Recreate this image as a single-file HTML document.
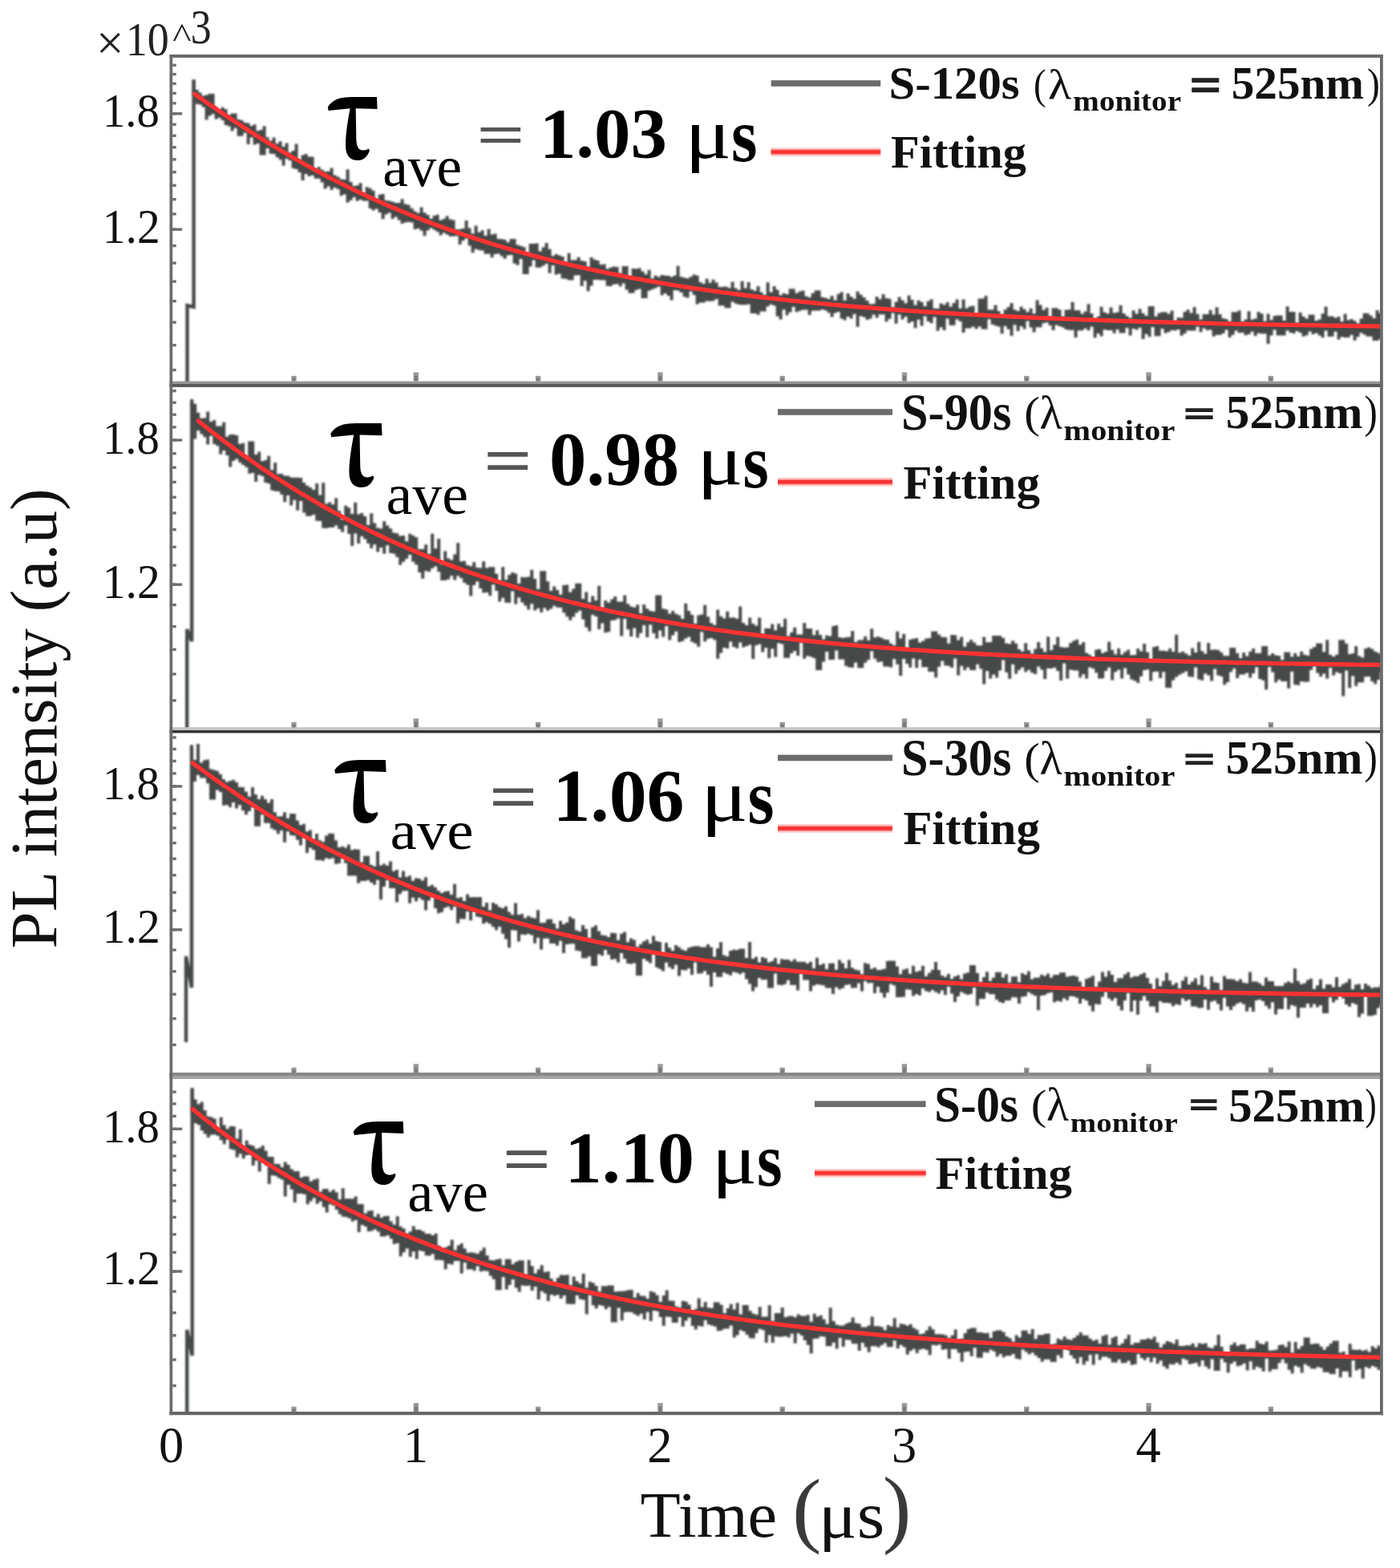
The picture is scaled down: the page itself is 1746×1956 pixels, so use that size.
<!DOCTYPE html>
<html><head><meta charset="utf-8"><title>PL decay</title>
<style>html,body{margin:0;padding:0;background:#fff;overflow:hidden}svg{display:block}</style>
</head><body>
<svg xmlns="http://www.w3.org/2000/svg" width="1746" height="1956" viewBox="0 0 1746 1956"><rect x="0" y="0" width="1746" height="1956" fill="#fff"/>
<defs>
<clipPath id="c0"><rect x="214.5" y="70.0" width="1506.5" height="407.2"/></clipPath>
<clipPath id="c1"><rect x="214.5" y="481.0" width="1506.5" height="428.1"/></clipPath>
<clipPath id="c2"><rect x="214.5" y="912.7" width="1506.5" height="427.3"/></clipPath>
<clipPath id="c3"><rect x="214.5" y="1344.0" width="1506.5" height="419.0"/></clipPath>
<filter id="bl" x="-5%" y="-5%" width="110%" height="110%"><feGaussianBlur stdDeviation="0.9"/></filter>
</defs>
<g clip-path="url(#c0)">
<g filter="url(#bl)">
<path d="M233.5 480.0 L233.5 381.0 L241.6 383.0 L241.6 101.0" fill="none" stroke="#474a4a" stroke-width="4.4" stroke-linejoin="miter"/>
<path d="M239.6 99.0h4.0v19.7h-4.0zM243.6 112.0h4.0v17.8h-4.0zM247.6 115.6h4.0v15.0h-4.0zM251.6 119.4h4.0v14.4h-4.0zM255.6 118.4h4.0v31.2h-4.0zM259.6 117.0h4.0v27.5h-4.0zM263.6 117.0h4.0v25.2h-4.0zM267.6 133.3h4.0v15.5h-4.0zM271.6 136.7h4.0v10.2h-4.0zM275.6 133.8h4.0v16.1h-4.0zM279.6 136.3h4.0v19.8h-4.0zM283.6 143.5h4.0v14.0h-4.0zM287.6 141.5h4.0v21.9h-4.0zM291.6 141.5h4.0v18.2h-4.0zM295.6 149.0h4.0v20.8h-4.0zM299.6 150.1h4.0v19.7h-4.0zM303.6 152.9h4.0v12.8h-4.0zM307.6 153.6h4.0v26.5h-4.0zM311.6 157.0h4.0v14.5h-4.0zM315.6 155.3h4.0v25.1h-4.0zM319.6 163.3h4.0v15.7h-4.0zM323.6 162.0h4.0v31.6h-4.0zM327.6 157.2h4.0v36.4h-4.0zM331.6 171.2h4.0v13.9h-4.0zM335.6 175.8h4.0v16.0h-4.0zM339.6 171.5h4.0v20.5h-4.0zM343.6 179.3h4.0v16.9h-4.0zM347.6 176.2h4.0v23.1h-4.0zM351.6 183.0h4.0v23.7h-4.0zM355.6 178.5h4.0v19.6h-4.0zM359.6 190.5h4.0v9.8h-4.0zM363.6 188.0h4.0v22.1h-4.0zM367.6 179.5h4.0v31.4h-4.0zM371.6 199.4h4.0v15.6h-4.0zM375.6 193.4h4.0v31.7h-4.0zM379.6 192.1h4.0v25.0h-4.0zM383.6 195.4h4.0v24.7h-4.0zM387.6 195.4h4.0v23.4h-4.0zM391.6 211.3h4.0v11.5h-4.0zM395.6 208.0h4.0v14.7h-4.0zM399.6 211.8h4.0v15.8h-4.0zM403.6 214.0h4.0v21.5h-4.0zM407.6 213.8h4.0v18.6h-4.0zM411.6 209.5h4.0v27.5h-4.0zM415.6 218.5h4.0v15.5h-4.0zM419.6 220.6h4.0v15.3h-4.0zM423.6 223.5h4.0v20.8h-4.0zM427.6 224.0h4.0v18.5h-4.0zM431.6 211.2h4.0v41.5h-4.0zM435.6 227.0h4.0v23.0h-4.0zM439.6 232.0h4.0v14.0h-4.0zM443.6 231.2h4.0v19.5h-4.0zM447.6 228.2h4.0v20.9h-4.0zM451.6 241.3h4.0v9.5h-4.0zM455.6 233.2h4.0v17.2h-4.0zM459.6 234.8h4.0v25.2h-4.0zM463.6 237.7h4.0v24.9h-4.0zM467.6 250.3h4.0v10.1h-4.0zM471.6 242.8h4.0v22.1h-4.0zM475.6 241.9h4.0v31.4h-4.0zM479.6 249.9h4.0v17.6h-4.0zM483.6 250.4h4.0v15.0h-4.0zM487.6 251.6h4.0v21.4h-4.0zM491.6 252.9h4.0v17.5h-4.0zM495.6 253.0h4.0v21.4h-4.0zM499.6 248.2h4.0v30.7h-4.0zM503.6 254.4h4.0v23.1h-4.0zM507.6 255.4h4.0v21.7h-4.0zM511.6 259.7h4.0v17.7h-4.0zM515.6 263.4h4.0v22.5h-4.0zM519.6 265.8h4.0v19.2h-4.0zM523.6 258.4h4.0v29.3h-4.0zM527.6 265.2h4.0v29.1h-4.0zM531.6 268.0h4.0v19.4h-4.0zM535.6 273.1h4.0v11.3h-4.0zM539.6 269.0h4.0v17.8h-4.0zM543.6 267.7h4.0v21.6h-4.0zM547.6 274.7h4.0v18.9h-4.0zM551.6 273.0h4.0v17.4h-4.0zM555.6 269.4h4.0v23.2h-4.0zM559.6 273.4h4.0v21.6h-4.0zM563.6 274.6h4.0v20.2h-4.0zM567.6 286.2h4.0v8.0h-4.0zM571.6 286.1h4.0v18.9h-4.0zM575.6 285.1h4.0v15.1h-4.0zM579.6 275.0h4.0v22.5h-4.0zM583.6 284.5h4.0v22.1h-4.0zM587.6 291.5h4.0v23.7h-4.0zM591.6 281.4h4.0v29.4h-4.0zM595.6 289.7h4.0v22.4h-4.0zM599.6 287.3h4.0v25.2h-4.0zM603.6 294.1h4.0v22.7h-4.0zM607.6 285.7h4.0v31.1h-4.0zM611.6 292.5h4.0v28.7h-4.0zM615.6 291.4h4.0v25.7h-4.0zM619.6 297.9h4.0v18.6h-4.0zM623.6 298.2h4.0v21.2h-4.0zM627.6 299.0h4.0v23.7h-4.0zM631.6 302.3h4.0v16.3h-4.0zM635.6 298.1h4.0v19.8h-4.0zM639.6 298.1h4.0v30.7h-4.0zM643.6 305.6h4.0v25.1h-4.0zM647.6 306.8h4.0v16.3h-4.0zM651.6 308.2h4.0v33.9h-4.0zM655.6 318.0h4.0v24.1h-4.0zM659.6 304.1h4.0v28.4h-4.0zM663.6 304.1h4.0v20.5h-4.0zM667.6 303.6h4.0v30.2h-4.0zM671.6 313.5h4.0v20.3h-4.0zM675.6 308.6h4.0v23.0h-4.0zM679.6 302.9h4.0v26.1h-4.0zM683.6 310.7h4.0v30.0h-4.0zM687.6 319.2h4.0v11.8h-4.0zM691.6 316.9h4.0v25.5h-4.0zM695.6 318.5h4.0v22.9h-4.0zM699.6 320.1h4.0v27.5h-4.0zM703.6 326.7h4.0v21.1h-4.0zM707.6 315.8h4.0v33.6h-4.0zM711.6 324.4h4.0v25.0h-4.0zM715.6 324.3h4.0v19.1h-4.0zM719.6 320.8h4.0v22.5h-4.0zM723.6 325.3h4.0v31.6h-4.0zM727.6 326.0h4.0v24.3h-4.0zM731.6 332.8h4.0v30.4h-4.0zM735.6 321.1h4.0v35.4h-4.0zM739.6 323.8h4.0v25.3h-4.0zM743.6 324.9h4.0v24.1h-4.0zM747.6 330.1h4.0v19.3h-4.0zM751.6 329.5h4.0v19.9h-4.0zM755.6 335.5h4.0v21.3h-4.0zM759.6 333.8h4.0v23.1h-4.0zM763.6 332.4h4.0v22.4h-4.0zM767.6 333.1h4.0v21.2h-4.0zM771.6 340.9h4.0v16.3h-4.0zM775.6 331.9h4.0v21.7h-4.0zM779.6 331.9h4.0v29.6h-4.0zM783.6 345.3h4.0v20.4h-4.0zM787.6 335.0h4.0v30.5h-4.0zM791.6 335.3h4.0v26.4h-4.0zM795.6 334.6h4.0v25.8h-4.0zM799.6 338.6h4.0v33.4h-4.0zM803.6 342.2h4.0v29.8h-4.0zM807.6 336.8h4.0v26.0h-4.0zM811.6 347.5h4.0v13.5h-4.0zM815.6 343.7h4.0v15.8h-4.0zM819.6 345.5h4.0v12.1h-4.0zM823.6 342.9h4.0v25.4h-4.0zM827.6 343.7h4.0v22.4h-4.0zM831.6 344.1h4.0v25.0h-4.0zM835.6 345.4h4.0v29.0h-4.0zM839.6 343.8h4.0v18.2h-4.0zM843.6 331.8h4.0v30.6h-4.0zM847.6 345.3h4.0v19.6h-4.0zM851.6 346.5h4.0v23.7h-4.0zM855.6 347.3h4.0v24.3h-4.0zM859.6 345.3h4.0v18.1h-4.0zM863.6 342.4h4.0v25.7h-4.0zM867.6 343.7h4.0v35.8h-4.0zM871.6 351.9h4.0v25.7h-4.0zM875.6 353.9h4.0v23.7h-4.0zM879.6 347.7h4.0v27.9h-4.0zM883.6 352.8h4.0v22.9h-4.0zM887.6 348.8h4.0v26.8h-4.0zM891.6 352.5h4.0v20.6h-4.0zM895.6 358.0h4.0v23.2h-4.0zM899.6 357.8h4.0v23.4h-4.0zM903.6 357.4h4.0v26.9h-4.0zM907.6 359.2h4.0v25.1h-4.0zM911.6 351.6h4.0v25.0h-4.0zM915.6 359.6h4.0v19.1h-4.0zM919.6 361.7h4.0v18.2h-4.0zM923.6 350.7h4.0v29.6h-4.0zM927.6 359.5h4.0v20.8h-4.0zM931.6 352.1h4.0v27.3h-4.0zM935.6 361.1h4.0v29.9h-4.0zM939.6 362.8h4.0v28.1h-4.0zM943.6 356.9h4.0v35.9h-4.0zM947.6 364.6h4.0v24.0h-4.0zM951.6 368.1h4.0v20.5h-4.0zM955.6 352.3h4.0v30.0h-4.0zM959.6 364.5h4.0v15.3h-4.0zM963.6 357.0h4.0v24.3h-4.0zM967.6 361.5h4.0v33.1h-4.0zM971.6 368.3h4.0v30.3h-4.0zM975.6 365.8h4.0v20.4h-4.0zM979.6 366.9h4.0v26.4h-4.0zM983.6 360.3h4.0v29.3h-4.0zM987.6 360.3h4.0v22.4h-4.0zM991.6 365.8h4.0v23.4h-4.0zM995.6 363.4h4.0v24.3h-4.0zM999.6 362.5h4.0v24.1h-4.0zM1003.6 369.5h4.0v17.0h-4.0zM1007.6 371.0h4.0v22.1h-4.0zM1011.6 365.7h4.0v22.0h-4.0zM1015.6 362.2h4.0v25.4h-4.0zM1019.6 362.2h4.0v25.2h-4.0zM1023.6 370.7h4.0v15.2h-4.0zM1027.6 371.5h4.0v15.8h-4.0zM1031.6 373.0h4.0v17.3h-4.0zM1035.6 368.9h4.0v26.6h-4.0zM1039.6 374.5h4.0v16.1h-4.0zM1043.6 366.7h4.0v22.2h-4.0zM1047.6 364.3h4.0v33.3h-4.0zM1051.6 374.7h4.0v24.8h-4.0zM1055.6 366.0h4.0v29.1h-4.0zM1059.6 370.0h4.0v27.6h-4.0zM1063.6 372.8h4.0v18.9h-4.0zM1067.6 363.4h4.0v44.4h-4.0zM1071.6 367.4h4.0v26.9h-4.0zM1075.6 371.1h4.0v24.7h-4.0zM1079.6 374.9h4.0v24.0h-4.0zM1083.6 379.2h4.0v18.4h-4.0zM1087.6 378.9h4.0v13.5h-4.0zM1091.6 370.0h4.0v26.6h-4.0zM1095.6 373.2h4.0v19.0h-4.0zM1099.6 366.9h4.0v25.4h-4.0zM1103.6 372.1h4.0v29.1h-4.0zM1107.6 372.7h4.0v25.0h-4.0zM1111.6 383.4h4.0v7.2h-4.0zM1115.6 376.5h4.0v27.3h-4.0zM1119.6 370.5h4.0v21.8h-4.0zM1123.6 374.6h4.0v23.9h-4.0zM1127.6 378.2h4.0v16.7h-4.0zM1131.6 368.5h4.0v34.4h-4.0zM1135.6 374.1h4.0v26.8h-4.0zM1139.6 380.6h4.0v28.7h-4.0zM1143.6 374.7h4.0v24.0h-4.0zM1147.6 376.7h4.0v29.8h-4.0zM1151.6 381.9h4.0v12.5h-4.0zM1155.6 375.7h4.0v25.3h-4.0zM1159.6 373.3h4.0v29.9h-4.0zM1163.6 384.7h4.0v10.8h-4.0zM1167.6 385.1h4.0v27.6h-4.0zM1171.6 378.4h4.0v29.8h-4.0zM1175.6 380.2h4.0v31.9h-4.0zM1179.6 376.9h4.0v20.5h-4.0zM1183.6 382.5h4.0v23.3h-4.0zM1187.6 377.9h4.0v27.8h-4.0zM1191.6 373.5h4.0v24.8h-4.0zM1195.6 384.8h4.0v16.2h-4.0zM1199.6 373.6h4.0v41.5h-4.0zM1203.6 384.6h4.0v24.9h-4.0zM1207.6 382.2h4.0v27.3h-4.0zM1211.6 381.5h4.0v26.0h-4.0zM1215.6 391.8h4.0v18.5h-4.0zM1219.6 372.6h4.0v34.7h-4.0zM1223.6 372.6h4.0v38.0h-4.0zM1227.6 369.1h4.0v41.7h-4.0zM1231.6 386.3h4.0v12.0h-4.0zM1235.6 386.3h4.0v18.5h-4.0zM1239.6 380.5h4.0v25.7h-4.0zM1243.6 388.1h4.0v19.3h-4.0zM1247.6 392.7h4.0v23.6h-4.0zM1251.6 386.3h4.0v20.4h-4.0zM1255.6 383.0h4.0v27.7h-4.0zM1259.6 378.1h4.0v40.9h-4.0zM1263.6 386.2h4.0v19.1h-4.0zM1267.6 388.0h4.0v24.9h-4.0zM1271.6 382.5h4.0v24.4h-4.0zM1275.6 385.8h4.0v24.8h-4.0zM1279.6 389.3h4.0v11.3h-4.0zM1283.6 384.7h4.0v23.9h-4.0zM1287.6 391.3h4.0v23.3h-4.0zM1291.6 374.6h4.0v33.7h-4.0zM1295.6 380.4h4.0v27.9h-4.0zM1299.6 386.7h4.0v16.5h-4.0zM1303.6 383.7h4.0v18.6h-4.0zM1307.6 394.9h4.0v11.1h-4.0zM1311.6 384.2h4.0v27.7h-4.0zM1315.6 384.2h4.0v21.4h-4.0zM1319.6 386.3h4.0v20.6h-4.0zM1323.6 394.9h4.0v13.7h-4.0zM1327.6 386.6h4.0v24.5h-4.0zM1331.6 386.2h4.0v25.5h-4.0zM1335.6 376.8h4.0v34.9h-4.0zM1339.6 386.9h4.0v34.2h-4.0zM1343.6 386.9h4.0v25.3h-4.0zM1347.6 391.5h4.0v20.7h-4.0zM1351.6 388.5h4.0v21.3h-4.0zM1355.6 379.2h4.0v33.0h-4.0zM1359.6 391.0h4.0v16.5h-4.0zM1363.6 398.1h4.0v23.1h-4.0zM1367.6 394.8h4.0v21.2h-4.0zM1371.6 382.8h4.0v36.6h-4.0zM1375.6 389.4h4.0v21.9h-4.0zM1379.6 391.3h4.0v20.7h-4.0zM1383.6 383.4h4.0v28.5h-4.0zM1387.6 390.3h4.0v25.4h-4.0zM1391.6 389.6h4.0v21.3h-4.0zM1395.6 380.7h4.0v34.9h-4.0zM1399.6 390.9h4.0v24.7h-4.0zM1403.6 394.2h4.0v14.8h-4.0zM1407.6 396.8h4.0v21.6h-4.0zM1411.6 387.2h4.0v22.8h-4.0zM1415.6 391.5h4.0v20.1h-4.0zM1419.6 385.2h4.0v23.6h-4.0zM1423.6 390.8h4.0v32.1h-4.0zM1427.6 393.9h4.0v22.9h-4.0zM1431.6 382.1h4.0v38.2h-4.0zM1435.6 382.1h4.0v26.0h-4.0zM1439.6 394.8h4.0v24.4h-4.0zM1443.6 390.5h4.0v28.7h-4.0zM1447.6 389.3h4.0v20.7h-4.0zM1451.6 389.3h4.0v26.1h-4.0zM1455.6 391.5h4.0v22.8h-4.0zM1459.6 387.6h4.0v24.3h-4.0zM1463.6 401.6h4.0v10.6h-4.0zM1467.6 396.1h4.0v14.9h-4.0zM1471.6 396.5h4.0v22.2h-4.0zM1475.6 388.9h4.0v27.2h-4.0zM1479.6 386.2h4.0v26.1h-4.0zM1483.6 390.5h4.0v21.9h-4.0zM1487.6 382.9h4.0v29.5h-4.0zM1491.6 391.7h4.0v15.9h-4.0zM1495.6 398.4h4.0v15.9h-4.0zM1499.6 391.9h4.0v17.6h-4.0zM1503.6 391.9h4.0v20.0h-4.0zM1507.6 386.8h4.0v24.6h-4.0zM1511.6 392.4h4.0v27.4h-4.0zM1515.6 383.3h4.0v34.4h-4.0zM1519.6 392.0h4.0v25.7h-4.0zM1523.6 397.0h4.0v19.0h-4.0zM1527.6 397.9h4.0v13.7h-4.0zM1531.6 401.2h4.0v19.9h-4.0zM1535.6 389.2h4.0v28.5h-4.0zM1539.6 389.2h4.0v23.4h-4.0zM1543.6 387.2h4.0v28.0h-4.0zM1547.6 401.3h4.0v13.8h-4.0zM1551.6 398.4h4.0v19.8h-4.0zM1555.6 388.3h4.0v28.7h-4.0zM1559.6 398.8h4.0v14.9h-4.0zM1563.6 397.5h4.0v21.4h-4.0zM1567.6 389.1h4.0v26.6h-4.0zM1571.6 391.2h4.0v25.0h-4.0zM1575.6 400.7h4.0v15.5h-4.0zM1579.6 391.6h4.0v37.3h-4.0zM1583.6 399.2h4.0v19.3h-4.0zM1587.6 394.0h4.0v17.4h-4.0zM1591.6 393.6h4.0v24.9h-4.0zM1595.6 393.6h4.0v25.0h-4.0zM1599.6 400.0h4.0v18.6h-4.0zM1603.6 382.3h4.0v29.9h-4.0zM1607.6 389.0h4.0v26.0h-4.0zM1611.6 389.0h4.0v27.0h-4.0zM1615.6 402.7h4.0v10.4h-4.0zM1619.6 389.7h4.0v25.3h-4.0zM1623.6 394.7h4.0v25.0h-4.0zM1627.6 397.5h4.0v20.8h-4.0zM1631.6 392.4h4.0v21.0h-4.0zM1635.6 392.4h4.0v24.7h-4.0zM1639.6 399.9h4.0v15.6h-4.0zM1643.6 398.6h4.0v19.8h-4.0zM1647.6 391.2h4.0v30.0h-4.0zM1651.6 382.5h4.0v30.1h-4.0zM1655.6 394.6h4.0v25.3h-4.0zM1659.6 394.4h4.0v25.4h-4.0zM1663.6 396.6h4.0v17.1h-4.0zM1667.6 395.1h4.0v28.3h-4.0zM1671.6 401.2h4.0v19.0h-4.0zM1675.6 391.5h4.0v29.5h-4.0zM1679.6 399.3h4.0v21.7h-4.0zM1683.6 398.0h4.0v19.8h-4.0zM1687.6 400.2h4.0v24.6h-4.0zM1691.6 403.5h4.0v16.7h-4.0zM1695.6 397.6h4.0v17.7h-4.0zM1699.6 390.8h4.0v26.8h-4.0zM1703.6 390.8h4.0v28.9h-4.0zM1707.6 393.6h4.0v26.1h-4.0zM1711.6 397.1h4.0v27.8h-4.0zM1715.6 386.9h4.0v38.0h-4.0zM1719.6 390.7h4.0v32.4h-4.0zM1723.6 404.6h4.0v12.8h-4.0z" fill="#474a4a"/>
</g>
<path d="M242.9 117.4 L246.9 120.2 L250.9 123.0 L254.9 125.8 L258.9 128.6 L262.9 131.4 L266.9 134.1 L270.9 136.9 L274.9 139.6 L278.9 142.3 L282.9 145.0 L286.9 147.7 L290.9 150.3 L294.9 153.0 L298.9 155.6 L302.9 158.2 L306.9 160.8 L310.9 163.4 L314.9 165.9 L318.9 168.5 L322.9 171.0 L326.9 173.5 L330.9 176.0 L334.9 178.4 L338.9 180.9 L342.9 183.3 L346.9 185.7 L350.9 188.1 L354.9 190.5 L358.9 192.8 L362.9 195.2 L366.9 197.5 L370.9 199.7 L374.9 202.0 L378.9 204.3 L382.9 206.5 L386.9 208.7 L390.9 210.9 L394.9 213.1 L398.9 215.2 L402.9 217.4 L406.9 219.5 L410.9 221.6 L414.9 223.6 L418.9 225.7 L422.9 227.7 L426.9 229.7 L430.9 231.7 L434.9 233.7 L438.9 235.7 L442.9 237.6 L446.9 239.5 L450.9 241.4 L454.9 243.3 L458.9 245.2 L462.9 247.0 L466.9 248.8 L470.9 250.6 L474.9 252.4 L478.9 254.2 L482.9 256.0 L486.9 257.7 L490.9 259.4 L494.9 261.1 L498.9 262.8 L502.9 264.5 L506.9 266.1 L510.9 267.7 L514.9 269.3 L518.9 270.9 L522.9 272.5 L526.9 274.1 L530.9 275.6 L534.9 277.2 L538.9 278.7 L542.9 280.2 L546.9 281.7 L550.9 283.1 L554.9 284.6 L558.9 286.0 L562.9 287.4 L566.9 288.8 L570.9 290.2 L574.9 291.6 L578.9 293.0 L582.9 294.3 L586.9 295.6 L590.9 296.9 L594.9 298.2 L598.9 299.5 L602.9 300.8 L606.9 302.1 L610.9 303.3 L614.9 304.5 L618.9 305.8 L622.9 307.0 L626.9 308.2 L630.9 309.3 L634.9 310.5 L638.9 311.7 L642.9 312.8 L646.9 313.9 L650.9 315.0 L654.9 316.1 L658.9 317.2 L662.9 318.3 L666.9 319.4 L670.9 320.4 L674.9 321.5 L678.9 322.5 L682.9 323.5 L686.9 324.5 L690.9 325.5 L694.9 326.5 L698.9 327.5 L702.9 328.4 L706.9 329.4 L710.9 330.3 L714.9 331.3 L718.9 332.2 L722.9 333.1 L726.9 334.0 L730.9 334.9 L734.9 335.8 L738.9 336.6 L742.9 337.5 L746.9 338.3 L750.9 339.2 L754.9 340.0 L758.9 340.8 L762.9 341.6 L766.9 342.4 L770.9 343.2 L774.9 344.0 L778.9 344.8 L782.9 345.6 L786.9 346.3 L790.9 347.1 L794.9 347.8 L798.9 348.5 L802.9 349.3 L806.9 350.0 L810.9 350.7 L814.9 351.4 L818.9 352.1 L822.9 352.8 L826.9 353.4 L830.9 354.1 L834.9 354.8 L838.9 355.4 L842.9 356.1 L846.9 356.7 L850.9 357.3 L854.9 358.0 L858.9 358.6 L862.9 359.2 L866.9 359.8 L870.9 360.4 L874.9 361.0 L878.9 361.5 L882.9 362.1 L886.9 362.7 L890.9 363.3 L894.9 363.8 L898.9 364.4 L902.9 364.9 L906.9 365.4 L910.9 366.0 L914.9 366.5 L918.9 367.0 L922.9 367.5 L926.9 368.0 L930.9 368.5 L934.9 369.0 L938.9 369.5 L942.9 370.0 L946.9 370.5 L950.9 370.9 L954.9 371.4 L958.9 371.9 L962.9 372.3 L966.9 372.8 L970.9 373.2 L974.9 373.7 L978.9 374.1 L982.9 374.5 L986.9 375.0 L990.9 375.4 L994.9 375.8 L998.9 376.2 L1002.9 376.6 L1006.9 377.0 L1010.9 377.4 L1014.9 377.8 L1018.9 378.2 L1022.9 378.6 L1026.9 378.9 L1030.9 379.3 L1034.9 379.7 L1038.9 380.1 L1042.9 380.4 L1046.9 380.8 L1050.9 381.1 L1054.9 381.5 L1058.9 381.8 L1062.9 382.2 L1066.9 382.5 L1070.9 382.8 L1074.9 383.2 L1078.9 383.5 L1082.9 383.8 L1086.9 384.1 L1090.9 384.4 L1094.9 384.8 L1098.9 385.1 L1102.9 385.4 L1106.9 385.7 L1110.9 386.0 L1114.9 386.3 L1118.9 386.5 L1122.9 386.8 L1126.9 387.1 L1130.9 387.4 L1134.9 387.7 L1138.9 387.9 L1142.9 388.2 L1146.9 388.5 L1150.9 388.7 L1154.9 389.0 L1158.9 389.3 L1162.9 389.5 L1166.9 389.8 L1170.9 390.0 L1174.9 390.3 L1178.9 390.5 L1182.9 390.8 L1186.9 391.0 L1190.9 391.2 L1194.9 391.5 L1198.9 391.7 L1202.9 391.9 L1206.9 392.1 L1210.9 392.4 L1214.9 392.6 L1218.9 392.8 L1222.9 393.0 L1226.9 393.2 L1230.9 393.4 L1234.9 393.6 L1238.9 393.8 L1242.9 394.0 L1246.9 394.2 L1250.9 394.4 L1254.9 394.6 L1258.9 394.8 L1262.9 395.0 L1266.9 395.2 L1270.9 395.4 L1274.9 395.6 L1278.9 395.8 L1282.9 395.9 L1286.9 396.1 L1290.9 396.3 L1294.9 396.5 L1298.9 396.6 L1302.9 396.8 L1306.9 397.0 L1310.9 397.1 L1314.9 397.3 L1318.9 397.5 L1322.9 397.6 L1326.9 397.8 L1330.9 397.9 L1334.9 398.1 L1338.9 398.2 L1342.9 398.4 L1346.9 398.5 L1350.9 398.7 L1354.9 398.8 L1358.9 399.0 L1362.9 399.1 L1366.9 399.3 L1370.9 399.4 L1374.9 399.5 L1378.9 399.7 L1382.9 399.8 L1386.9 399.9 L1390.9 400.1 L1394.9 400.2 L1398.9 400.3 L1402.9 400.5 L1406.9 400.6 L1410.9 400.7 L1414.9 400.8 L1418.9 401.0 L1422.9 401.1 L1426.9 401.2 L1430.9 401.3 L1434.9 401.4 L1438.9 401.5 L1442.9 401.7 L1446.9 401.8 L1450.9 401.9 L1454.9 402.0 L1458.9 402.1 L1462.9 402.2 L1466.9 402.3 L1470.9 402.4 L1474.9 402.5 L1478.9 402.6 L1482.9 402.7 L1486.9 402.8 L1490.9 402.9 L1494.9 403.0 L1498.9 403.1 L1502.9 403.2 L1506.9 403.3 L1510.9 403.4 L1514.9 403.5 L1518.9 403.6 L1522.9 403.7 L1526.9 403.7 L1530.9 403.8 L1534.9 403.9 L1538.9 404.0 L1542.9 404.1 L1546.9 404.2 L1550.9 404.2 L1554.9 404.3 L1558.9 404.4 L1562.9 404.5 L1566.9 404.6 L1570.9 404.6 L1574.9 404.7 L1578.9 404.8 L1582.9 404.9 L1586.9 404.9 L1590.9 405.0 L1594.9 405.1 L1598.9 405.2 L1602.9 405.2 L1606.9 405.3 L1610.9 405.4 L1614.9 405.4 L1618.9 405.5 L1622.9 405.6 L1626.9 405.6 L1630.9 405.7 L1634.9 405.8 L1638.9 405.8 L1642.9 405.9 L1646.9 406.0 L1650.9 406.0 L1654.9 406.1 L1658.9 406.1 L1662.9 406.2 L1666.9 406.3 L1670.9 406.3 L1674.9 406.4 L1678.9 406.4 L1682.9 406.5 L1686.9 406.5 L1690.9 406.6 L1694.9 406.7 L1698.9 406.7 L1702.9 406.8 L1706.9 406.8 L1710.9 406.9 L1714.9 406.9 L1718.9 407.0 L1722.9 407.0" fill="none" stroke="#ff3232" stroke-width="5.4" stroke-linecap="round"/>
</g>
<g clip-path="url(#c1)">
<g filter="url(#bl)">
<path d="M233.2 912.0 L233.2 785.0 L239.2 800.0 L239.2 500.0" fill="none" stroke="#474a4a" stroke-width="4.4" stroke-linejoin="miter"/>
<path d="M237.2 498.0h4.0v29.7h-4.0zM241.2 503.8h4.0v43.8h-4.0zM245.2 514.7h4.0v22.4h-4.0zM249.2 521.8h4.0v19.6h-4.0zM253.2 521.5h4.0v23.8h-4.0zM257.2 513.6h4.0v41.0h-4.0zM261.2 525.9h4.0v17.9h-4.0zM265.2 524.0h4.0v30.1h-4.0zM269.2 531.6h4.0v24.7h-4.0zM273.2 531.6h4.0v35.2h-4.0zM277.2 526.7h4.0v35.2h-4.0zM281.2 544.8h4.0v23.1h-4.0zM285.2 541.9h4.0v40.7h-4.0zM289.2 541.9h4.0v33.0h-4.0zM293.2 543.1h4.0v29.4h-4.0zM297.2 553.8h4.0v23.3h-4.0zM301.2 552.8h4.0v27.2h-4.0zM305.2 568.4h4.0v14.4h-4.0zM309.2 550.6h4.0v40.1h-4.0zM313.2 550.6h4.0v39.4h-4.0zM317.2 566.9h4.0v34.2h-4.0zM321.2 563.6h4.0v29.0h-4.0zM325.2 575.2h4.0v18.7h-4.0zM329.2 574.0h4.0v28.1h-4.0zM333.2 568.8h4.0v34.4h-4.0zM337.2 586.3h4.0v25.5h-4.0zM341.2 577.1h4.0v35.7h-4.0zM345.2 591.3h4.0v21.6h-4.0zM349.2 590.9h4.0v26.2h-4.0zM353.2 593.5h4.0v32.7h-4.0zM357.2 593.5h4.0v24.6h-4.0zM361.2 595.6h4.0v34.8h-4.0zM365.2 595.8h4.0v28.0h-4.0zM369.2 595.8h4.0v40.9h-4.0zM373.2 595.9h4.0v29.1h-4.0zM377.2 602.0h4.0v37.4h-4.0zM381.2 605.7h4.0v38.1h-4.0zM385.2 608.1h4.0v35.7h-4.0zM389.2 611.1h4.0v30.8h-4.0zM393.2 603.0h4.0v46.7h-4.0zM397.2 617.4h4.0v32.7h-4.0zM401.2 602.2h4.0v56.6h-4.0zM405.2 628.4h4.0v30.5h-4.0zM409.2 626.4h4.0v31.5h-4.0zM413.2 629.2h4.0v28.8h-4.0zM417.2 621.2h4.0v34.4h-4.0zM421.2 637.3h4.0v22.6h-4.0zM425.2 647.9h4.0v15.9h-4.0zM429.2 630.7h4.0v24.7h-4.0zM433.2 633.3h4.0v32.8h-4.0zM437.2 640.9h4.0v40.2h-4.0zM441.2 626.7h4.0v38.9h-4.0zM445.2 641.6h4.0v36.4h-4.0zM449.2 639.9h4.0v29.2h-4.0zM453.2 643.9h4.0v28.5h-4.0zM457.2 654.9h4.0v23.2h-4.0zM461.2 640.3h4.0v43.6h-4.0zM465.2 652.5h4.0v26.8h-4.0zM469.2 658.6h4.0v30.0h-4.0zM473.2 659.2h4.0v23.7h-4.0zM477.2 650.2h4.0v40.5h-4.0zM481.2 655.6h4.0v24.6h-4.0zM485.2 659.2h4.0v30.8h-4.0zM489.2 664.4h4.0v26.3h-4.0zM493.2 665.3h4.0v29.6h-4.0zM497.2 668.4h4.0v36.4h-4.0zM501.2 668.0h4.0v32.7h-4.0zM505.2 675.3h4.0v21.6h-4.0zM509.2 665.7h4.0v26.3h-4.0zM513.2 668.1h4.0v32.6h-4.0zM517.2 670.2h4.0v34.3h-4.0zM521.2 685.0h4.0v29.0h-4.0zM525.2 684.9h4.0v36.8h-4.0zM529.2 679.3h4.0v32.9h-4.0zM533.2 691.1h4.0v22.1h-4.0zM537.2 665.8h4.0v43.2h-4.0zM541.2 684.3h4.0v22.3h-4.0zM545.2 672.1h4.0v41.2h-4.0zM549.2 703.5h4.0v20.6h-4.0zM553.2 687.4h4.0v36.7h-4.0zM557.2 696.5h4.0v26.3h-4.0zM561.2 698.4h4.0v19.9h-4.0zM565.2 691.6h4.0v31.8h-4.0zM569.2 677.2h4.0v41.3h-4.0zM573.2 700.2h4.0v21.0h-4.0zM577.2 699.8h4.0v27.2h-4.0zM581.2 705.0h4.0v24.4h-4.0zM585.2 706.3h4.0v37.2h-4.0zM589.2 701.3h4.0v28.6h-4.0zM593.2 708.0h4.0v17.5h-4.0zM597.2 708.6h4.0v25.4h-4.0zM601.2 700.2h4.0v39.3h-4.0zM605.2 708.5h4.0v30.4h-4.0zM609.2 707.2h4.0v36.0h-4.0zM613.2 707.2h4.0v22.0h-4.0zM617.2 715.8h4.0v21.2h-4.0zM621.2 724.4h4.0v26.2h-4.0zM625.2 707.2h4.0v38.5h-4.0zM629.2 723.3h4.0v28.5h-4.0zM633.2 716.9h4.0v35.0h-4.0zM637.2 713.9h4.0v23.5h-4.0zM641.2 715.5h4.0v38.0h-4.0zM645.2 728.1h4.0v17.3h-4.0zM649.2 719.7h4.0v31.7h-4.0zM653.2 720.3h4.0v35.2h-4.0zM657.2 719.6h4.0v40.8h-4.0zM661.2 710.7h4.0v42.6h-4.0zM665.2 722.1h4.0v39.4h-4.0zM669.2 734.9h4.0v23.9h-4.0zM673.2 712.3h4.0v51.6h-4.0zM677.2 712.3h4.0v46.3h-4.0zM681.2 725.3h4.0v36.5h-4.0zM685.2 736.9h4.0v22.6h-4.0zM689.2 731.6h4.0v24.2h-4.0zM693.2 736.1h4.0v21.7h-4.0zM697.2 741.7h4.0v16.2h-4.0zM701.2 730.0h4.0v34.2h-4.0zM705.2 729.5h4.0v39.7h-4.0zM709.2 738.7h4.0v35.1h-4.0zM713.2 734.5h4.0v35.0h-4.0zM717.2 727.8h4.0v36.8h-4.0zM721.2 727.8h4.0v33.9h-4.0zM725.2 747.1h4.0v25.6h-4.0zM729.2 738.6h4.0v44.0h-4.0zM733.2 751.2h4.0v36.4h-4.0zM737.2 743.5h4.0v23.4h-4.0zM741.2 749.1h4.0v19.9h-4.0zM745.2 730.8h4.0v54.3h-4.0zM749.2 758.6h4.0v18.9h-4.0zM753.2 748.9h4.0v40.4h-4.0zM757.2 751.7h4.0v36.6h-4.0zM761.2 747.6h4.0v26.5h-4.0zM765.2 744.0h4.0v29.6h-4.0zM769.2 750.4h4.0v21.1h-4.0zM773.2 750.4h4.0v43.0h-4.0zM777.2 742.5h4.0v29.4h-4.0zM781.2 753.2h4.0v32.1h-4.0zM785.2 756.6h4.0v37.5h-4.0zM789.2 757.8h4.0v25.8h-4.0zM793.2 754.2h4.0v41.3h-4.0zM797.2 765.1h4.0v24.7h-4.0zM801.2 754.1h4.0v26.0h-4.0zM805.2 759.2h4.0v35.9h-4.0zM809.2 762.0h4.0v17.3h-4.0zM813.2 762.7h4.0v27.4h-4.0zM817.2 742.4h4.0v54.2h-4.0zM821.2 742.4h4.0v44.2h-4.0zM825.2 759.3h4.0v35.1h-4.0zM829.2 760.3h4.0v20.8h-4.0zM833.2 765.4h4.0v33.1h-4.0zM837.2 761.9h4.0v30.6h-4.0zM841.2 765.7h4.0v22.1h-4.0zM845.2 767.6h4.0v33.3h-4.0zM849.2 771.9h4.0v27.8h-4.0zM853.2 752.8h4.0v43.8h-4.0zM857.2 761.9h4.0v32.7h-4.0zM861.2 766.9h4.0v33.9h-4.0zM865.2 777.9h4.0v24.9h-4.0zM869.2 767.5h4.0v39.3h-4.0zM873.2 766.5h4.0v21.7h-4.0zM877.2 754.7h4.0v45.6h-4.0zM881.2 769.2h4.0v27.6h-4.0zM885.2 777.2h4.0v18.9h-4.0zM889.2 779.8h4.0v18.4h-4.0zM893.2 760.4h4.0v61.3h-4.0zM897.2 768.8h4.0v45.8h-4.0zM901.2 771.6h4.0v36.5h-4.0zM905.2 762.7h4.0v46.3h-4.0zM909.2 770.5h4.0v30.0h-4.0zM913.2 770.3h4.0v36.7h-4.0zM917.2 771.7h4.0v37.0h-4.0zM921.2 756.6h4.0v44.9h-4.0zM925.2 776.9h4.0v30.7h-4.0zM929.2 780.0h4.0v26.1h-4.0zM933.2 770.6h4.0v33.7h-4.0zM937.2 778.0h4.0v43.9h-4.0zM941.2 780.5h4.0v24.5h-4.0zM945.2 770.4h4.0v33.2h-4.0zM949.2 791.0h4.0v22.6h-4.0zM953.2 783.8h4.0v24.3h-4.0zM957.2 783.9h4.0v37.1h-4.0zM961.2 778.6h4.0v30.6h-4.0zM965.2 786.3h4.0v33.3h-4.0zM969.2 778.1h4.0v24.1h-4.0zM973.2 782.2h4.0v21.4h-4.0zM977.2 771.8h4.0v48.9h-4.0zM981.2 793.5h4.0v27.2h-4.0zM985.2 788.7h4.0v26.4h-4.0zM989.2 782.7h4.0v29.4h-4.0zM993.2 791.5h4.0v26.5h-4.0zM997.2 791.4h4.0v10.2h-4.0zM1001.2 777.1h4.0v44.6h-4.0zM1005.2 783.9h4.0v34.4h-4.0zM1009.2 784.0h4.0v35.2h-4.0zM1013.2 792.2h4.0v28.8h-4.0zM1017.2 786.3h4.0v49.7h-4.0zM1021.2 791.9h4.0v44.1h-4.0zM1025.2 797.5h4.0v28.1h-4.0zM1029.2 792.6h4.0v20.5h-4.0zM1033.2 793.4h4.0v29.7h-4.0zM1037.2 781.0h4.0v41.9h-4.0zM1041.2 780.1h4.0v31.4h-4.0zM1045.2 794.9h4.0v27.7h-4.0zM1049.2 795.7h4.0v26.9h-4.0zM1053.2 794.9h4.0v35.9h-4.0zM1057.2 794.7h4.0v37.7h-4.0zM1061.2 787.1h4.0v45.6h-4.0zM1065.2 800.9h4.0v25.5h-4.0zM1069.2 798.4h4.0v34.9h-4.0zM1073.2 798.3h4.0v35.0h-4.0zM1077.2 793.7h4.0v33.1h-4.0zM1081.2 798.7h4.0v24.6h-4.0zM1085.2 784.2h4.0v28.1h-4.0zM1089.2 795.3h4.0v26.4h-4.0zM1093.2 793.9h4.0v32.1h-4.0zM1097.2 795.6h4.0v29.6h-4.0zM1101.2 797.6h4.0v34.0h-4.0zM1105.2 798.1h4.0v33.5h-4.0zM1109.2 802.7h4.0v29.7h-4.0zM1113.2 805.0h4.0v16.9h-4.0zM1117.2 787.7h4.0v41.0h-4.0zM1121.2 796.6h4.0v46.3h-4.0zM1125.2 790.8h4.0v31.2h-4.0zM1129.2 808.9h4.0v19.2h-4.0zM1133.2 797.8h4.0v35.0h-4.0zM1137.2 796.7h4.0v24.8h-4.0zM1141.2 796.1h4.0v37.2h-4.0zM1145.2 801.4h4.0v21.4h-4.0zM1149.2 799.4h4.0v32.9h-4.0zM1153.2 796.4h4.0v35.9h-4.0zM1157.2 796.1h4.0v41.8h-4.0zM1161.2 787.4h4.0v50.5h-4.0zM1165.2 787.4h4.0v57.9h-4.0zM1169.2 791.4h4.0v40.4h-4.0zM1173.2 794.8h4.0v29.8h-4.0zM1177.2 794.8h4.0v35.5h-4.0zM1181.2 802.7h4.0v28.1h-4.0zM1185.2 792.1h4.0v40.9h-4.0zM1189.2 792.3h4.0v29.3h-4.0zM1193.2 798.4h4.0v44.1h-4.0zM1197.2 794.5h4.0v36.3h-4.0zM1201.2 806.7h4.0v29.2h-4.0zM1205.2 801.2h4.0v31.4h-4.0zM1209.2 797.9h4.0v38.2h-4.0zM1213.2 801.6h4.0v34.5h-4.0zM1217.2 805.1h4.0v23.7h-4.0zM1221.2 805.3h4.0v29.0h-4.0zM1225.2 794.6h4.0v58.9h-4.0zM1229.2 801.3h4.0v35.8h-4.0zM1233.2 801.0h4.0v45.4h-4.0zM1237.2 792.9h4.0v48.6h-4.0zM1241.2 792.9h4.0v52.5h-4.0zM1245.2 792.9h4.0v43.7h-4.0zM1249.2 795.8h4.0v27.6h-4.0zM1253.2 802.6h4.0v36.1h-4.0zM1257.2 803.3h4.0v43.4h-4.0zM1261.2 799.3h4.0v29.4h-4.0zM1265.2 802.8h4.0v37.6h-4.0zM1269.2 810.0h4.0v25.7h-4.0zM1273.2 812.7h4.0v19.8h-4.0zM1277.2 802.3h4.0v36.0h-4.0zM1281.2 811.1h4.0v24.7h-4.0zM1285.2 815.5h4.0v23.7h-4.0zM1289.2 809.6h4.0v31.3h-4.0zM1293.2 801.0h4.0v30.4h-4.0zM1297.2 808.8h4.0v26.6h-4.0zM1301.2 813.3h4.0v33.8h-4.0zM1305.2 794.2h4.0v39.5h-4.0zM1309.2 811.0h4.0v23.0h-4.0zM1313.2 804.3h4.0v28.4h-4.0zM1317.2 794.5h4.0v42.5h-4.0zM1321.2 807.0h4.0v41.9h-4.0zM1325.2 807.8h4.0v19.7h-4.0zM1329.2 807.6h4.0v38.8h-4.0zM1333.2 802.0h4.0v33.6h-4.0zM1337.2 799.2h4.0v37.1h-4.0zM1341.2 797.7h4.0v38.7h-4.0zM1345.2 804.3h4.0v40.9h-4.0zM1349.2 800.9h4.0v40.2h-4.0zM1353.2 814.5h4.0v32.1h-4.0zM1357.2 816.8h4.0v15.6h-4.0zM1361.2 820.8h4.0v13.3h-4.0zM1365.2 810.5h4.0v28.8h-4.0zM1369.2 809.8h4.0v36.6h-4.0zM1373.2 814.7h4.0v31.6h-4.0zM1377.2 813.0h4.0v24.1h-4.0zM1381.2 800.6h4.0v32.2h-4.0zM1385.2 810.7h4.0v37.8h-4.0zM1389.2 816.3h4.0v21.9h-4.0zM1393.2 808.8h4.0v26.8h-4.0zM1397.2 816.5h4.0v29.9h-4.0zM1401.2 813.2h4.0v20.3h-4.0zM1405.2 810.5h4.0v30.9h-4.0zM1409.2 817.2h4.0v30.4h-4.0zM1413.2 817.0h4.0v32.3h-4.0zM1417.2 809.1h4.0v42.8h-4.0zM1421.2 812.6h4.0v31.1h-4.0zM1425.2 803.1h4.0v33.0h-4.0zM1429.2 813.4h4.0v21.9h-4.0zM1433.2 825.7h4.0v23.8h-4.0zM1437.2 806.9h4.0v31.0h-4.0zM1441.2 806.1h4.0v31.7h-4.0zM1445.2 811.8h4.0v34.2h-4.0zM1449.2 811.8h4.0v26.4h-4.0zM1453.2 812.2h4.0v45.8h-4.0zM1457.2 808.8h4.0v49.1h-4.0zM1461.2 812.9h4.0v35.6h-4.0zM1465.2 791.8h4.0v52.6h-4.0zM1469.2 814.3h4.0v27.5h-4.0zM1473.2 812.8h4.0v26.9h-4.0zM1477.2 815.3h4.0v22.3h-4.0zM1481.2 817.8h4.0v26.2h-4.0zM1485.2 808.5h4.0v36.1h-4.0zM1489.2 813.9h4.0v18.6h-4.0zM1493.2 800.8h4.0v46.7h-4.0zM1497.2 812.0h4.0v36.8h-4.0zM1501.2 815.6h4.0v24.7h-4.0zM1505.2 802.0h4.0v40.5h-4.0zM1509.2 810.8h4.0v38.7h-4.0zM1513.2 810.3h4.0v24.2h-4.0zM1517.2 810.8h4.0v31.7h-4.0zM1521.2 813.7h4.0v30.0h-4.0zM1525.2 818.1h4.0v36.2h-4.0zM1529.2 817.9h4.0v33.0h-4.0zM1533.2 807.9h4.0v30.3h-4.0zM1537.2 807.9h4.0v26.0h-4.0zM1541.2 814.8h4.0v31.2h-4.0zM1545.2 820.9h4.0v20.6h-4.0zM1549.2 814.1h4.0v27.4h-4.0zM1553.2 818.4h4.0v21.1h-4.0zM1557.2 812.7h4.0v32.9h-4.0zM1561.2 809.1h4.0v30.9h-4.0zM1565.2 814.8h4.0v17.5h-4.0zM1569.2 814.8h4.0v32.2h-4.0zM1573.2 805.9h4.0v42.8h-4.0zM1577.2 805.9h4.0v54.4h-4.0zM1581.2 817.8h4.0v14.3h-4.0zM1585.2 815.1h4.0v23.3h-4.0zM1589.2 817.6h4.0v33.6h-4.0zM1593.2 818.0h4.0v29.8h-4.0zM1597.2 823.3h4.0v26.6h-4.0zM1601.2 813.5h4.0v36.4h-4.0zM1605.2 813.5h4.0v45.3h-4.0zM1609.2 819.3h4.0v18.5h-4.0zM1613.2 814.7h4.0v39.6h-4.0zM1617.2 818.7h4.0v36.0h-4.0zM1621.2 812.7h4.0v37.2h-4.0zM1625.2 816.8h4.0v34.0h-4.0zM1629.2 817.8h4.0v32.7h-4.0zM1633.2 809.4h4.0v26.3h-4.0zM1637.2 807.0h4.0v24.0h-4.0zM1641.2 802.5h4.0v37.0h-4.0zM1645.2 802.5h4.0v41.5h-4.0zM1649.2 813.3h4.0v27.0h-4.0zM1653.2 798.2h4.0v48.3h-4.0zM1657.2 816.8h4.0v16.2h-4.0zM1661.2 819.0h4.0v23.5h-4.0zM1665.2 816.6h4.0v21.9h-4.0zM1669.2 798.2h4.0v41.7h-4.0zM1673.2 798.2h4.0v70.2h-4.0zM1677.2 802.7h4.0v33.9h-4.0zM1681.2 816.0h4.0v42.2h-4.0zM1685.2 815.0h4.0v28.3h-4.0zM1689.2 806.0h4.0v49.8h-4.0zM1693.2 818.3h4.0v32.9h-4.0zM1697.2 820.3h4.0v30.9h-4.0zM1701.2 809.1h4.0v35.2h-4.0zM1705.2 807.4h4.0v36.7h-4.0zM1709.2 809.4h4.0v40.7h-4.0zM1713.2 812.8h4.0v40.5h-4.0zM1717.2 814.6h4.0v33.3h-4.0zM1721.2 816.8h4.0v21.6h-4.0z" fill="#474a4a"/>
</g>
<path d="M247.2 525.2 L251.2 528.4 L255.2 531.6 L259.2 534.7 L263.2 537.9 L267.2 540.9 L271.2 544.0 L275.2 547.1 L279.2 550.1 L283.2 553.1 L287.2 556.0 L291.2 559.0 L295.2 561.9 L299.2 564.8 L303.2 567.7 L307.2 570.5 L311.2 573.3 L315.2 576.1 L319.2 578.9 L323.2 581.7 L327.2 584.4 L331.2 587.1 L335.2 589.8 L339.2 592.4 L343.2 595.0 L347.2 597.6 L351.2 600.2 L355.2 602.8 L359.2 605.3 L363.2 607.8 L367.2 610.3 L371.2 612.8 L375.2 615.2 L379.2 617.6 L383.2 620.0 L387.2 622.4 L391.2 624.7 L395.2 627.0 L399.2 629.3 L403.2 631.6 L407.2 633.9 L411.2 636.1 L415.2 638.3 L419.2 640.5 L423.2 642.7 L427.2 644.8 L431.2 646.9 L435.2 649.0 L439.2 651.1 L443.2 653.2 L447.2 655.2 L451.2 657.2 L455.2 659.2 L459.2 661.2 L463.2 663.2 L467.2 665.1 L471.2 667.0 L475.2 668.9 L479.2 670.8 L483.2 672.7 L487.2 674.5 L491.2 676.3 L495.2 678.1 L499.2 679.9 L503.2 681.6 L507.2 683.4 L511.2 685.1 L515.2 686.8 L519.2 688.5 L523.2 690.2 L527.2 691.8 L531.2 693.5 L535.2 695.1 L539.2 696.7 L543.2 698.3 L547.2 699.8 L551.2 701.4 L555.2 702.9 L559.2 704.4 L563.2 705.9 L567.2 707.4 L571.2 708.8 L575.2 710.3 L579.2 711.7 L583.2 713.1 L587.2 714.5 L591.2 715.9 L595.2 717.3 L599.2 718.7 L603.2 720.0 L607.2 721.3 L611.2 722.6 L615.2 723.9 L619.2 725.2 L623.2 726.5 L627.2 727.7 L631.2 729.0 L635.2 730.2 L639.2 731.4 L643.2 732.6 L647.2 733.8 L651.2 734.9 L655.2 736.1 L659.2 737.2 L663.2 738.4 L667.2 739.5 L671.2 740.6 L675.2 741.7 L679.2 742.8 L683.2 743.8 L687.2 744.9 L691.2 745.9 L695.2 747.0 L699.2 748.0 L703.2 749.0 L707.2 750.0 L711.2 751.0 L715.2 752.0 L719.2 752.9 L723.2 753.9 L727.2 754.8 L731.2 755.7 L735.2 756.7 L739.2 757.6 L743.2 758.5 L747.2 759.4 L751.2 760.2 L755.2 761.1 L759.2 762.0 L763.2 762.8 L767.2 763.7 L771.2 764.5 L775.2 765.3 L779.2 766.1 L783.2 766.9 L787.2 767.7 L791.2 768.5 L795.2 769.3 L799.2 770.0 L803.2 770.8 L807.2 771.5 L811.2 772.3 L815.2 773.0 L819.2 773.7 L823.2 774.4 L827.2 775.1 L831.2 775.8 L835.2 776.5 L839.2 777.2 L843.2 777.8 L847.2 778.5 L851.2 779.2 L855.2 779.8 L859.2 780.5 L863.2 781.1 L867.2 781.7 L871.2 782.3 L875.2 782.9 L879.2 783.5 L883.2 784.1 L887.2 784.7 L891.2 785.3 L895.2 785.9 L899.2 786.4 L903.2 787.0 L907.2 787.6 L911.2 788.1 L915.2 788.7 L919.2 789.2 L923.2 789.7 L927.2 790.2 L931.2 790.8 L935.2 791.3 L939.2 791.8 L943.2 792.3 L947.2 792.8 L951.2 793.3 L955.2 793.7 L959.2 794.2 L963.2 794.7 L967.2 795.1 L971.2 795.6 L975.2 796.1 L979.2 796.5 L983.2 796.9 L987.2 797.4 L991.2 797.8 L995.2 798.2 L999.2 798.7 L1003.2 799.1 L1007.2 799.5 L1011.2 799.9 L1015.2 800.3 L1019.2 800.7 L1023.2 801.1 L1027.2 801.5 L1031.2 801.9 L1035.2 802.2 L1039.2 802.6 L1043.2 803.0 L1047.2 803.3 L1051.2 803.7 L1055.2 804.1 L1059.2 804.4 L1063.2 804.8 L1067.2 805.1 L1071.2 805.4 L1075.2 805.8 L1079.2 806.1 L1083.2 806.4 L1087.2 806.8 L1091.2 807.1 L1095.2 807.4 L1099.2 807.7 L1103.2 808.0 L1107.2 808.3 L1111.2 808.6 L1115.2 808.9 L1119.2 809.2 L1123.2 809.5 L1127.2 809.8 L1131.2 810.1 L1135.2 810.4 L1139.2 810.6 L1143.2 810.9 L1147.2 811.2 L1151.2 811.4 L1155.2 811.7 L1159.2 812.0 L1163.2 812.2 L1167.2 812.5 L1171.2 812.7 L1175.2 813.0 L1179.2 813.2 L1183.2 813.5 L1187.2 813.7 L1191.2 813.9 L1195.2 814.2 L1199.2 814.4 L1203.2 814.6 L1207.2 814.9 L1211.2 815.1 L1215.2 815.3 L1219.2 815.5 L1223.2 815.7 L1227.2 816.0 L1231.2 816.2 L1235.2 816.4 L1239.2 816.6 L1243.2 816.8 L1247.2 817.0 L1251.2 817.2 L1255.2 817.4 L1259.2 817.6 L1263.2 817.7 L1267.2 817.9 L1271.2 818.1 L1275.2 818.3 L1279.2 818.5 L1283.2 818.7 L1287.2 818.8 L1291.2 819.0 L1295.2 819.2 L1299.2 819.4 L1303.2 819.5 L1307.2 819.7 L1311.2 819.9 L1315.2 820.0 L1319.2 820.2 L1323.2 820.3 L1327.2 820.5 L1331.2 820.7 L1335.2 820.8 L1339.2 821.0 L1343.2 821.1 L1347.2 821.3 L1351.2 821.4 L1355.2 821.5 L1359.2 821.7 L1363.2 821.8 L1367.2 822.0 L1371.2 822.1 L1375.2 822.2 L1379.2 822.4 L1383.2 822.5 L1387.2 822.6 L1391.2 822.8 L1395.2 822.9 L1399.2 823.0 L1403.2 823.1 L1407.2 823.3 L1411.2 823.4 L1415.2 823.5 L1419.2 823.6 L1423.2 823.7 L1427.2 823.9 L1431.2 824.0 L1435.2 824.1 L1439.2 824.2 L1443.2 824.3 L1447.2 824.4 L1451.2 824.5 L1455.2 824.6 L1459.2 824.7 L1463.2 824.8 L1467.2 824.9 L1471.2 825.0 L1475.2 825.1 L1479.2 825.2 L1483.2 825.3 L1487.2 825.4 L1491.2 825.5 L1495.2 825.6 L1499.2 825.7 L1503.2 825.8 L1507.2 825.9 L1511.2 826.0 L1515.2 826.1 L1519.2 826.2 L1523.2 826.2 L1527.2 826.3 L1531.2 826.4 L1535.2 826.5 L1539.2 826.6 L1543.2 826.7 L1547.2 826.7 L1551.2 826.8 L1555.2 826.9 L1559.2 827.0 L1563.2 827.1 L1567.2 827.1 L1571.2 827.2 L1575.2 827.3 L1579.2 827.4 L1583.2 827.4 L1587.2 827.5 L1591.2 827.6 L1595.2 827.6 L1599.2 827.7 L1603.2 827.8 L1607.2 827.8 L1611.2 827.9 L1615.2 828.0 L1619.2 828.0 L1623.2 828.1 L1627.2 828.2 L1631.2 828.2 L1635.2 828.3 L1639.2 828.3 L1643.2 828.4 L1647.2 828.5 L1651.2 828.5 L1655.2 828.6 L1659.2 828.6 L1663.2 828.7 L1667.2 828.7 L1671.2 828.8 L1675.2 828.9 L1679.2 828.9 L1683.2 829.0 L1687.2 829.0 L1691.2 829.1 L1695.2 829.1 L1699.2 829.2 L1703.2 829.2 L1707.2 829.3 L1711.2 829.3 L1715.2 829.4 L1719.2 829.4" fill="none" stroke="#ff3232" stroke-width="5.4" stroke-linecap="round"/>
</g>
<g clip-path="url(#c2)">
<g filter="url(#bl)">
<path d="M232.0 1300.0 L232.0 1193.0 L239.0 1232.0 L239.0 931.3" fill="none" stroke="#474a4a" stroke-width="4.4" stroke-linejoin="miter"/>
<path d="M237.0 929.3h4.0v47.6h-4.0zM241.0 947.9h4.0v27.0h-4.0zM245.0 928.0h4.0v38.8h-4.0zM249.0 951.6h4.0v19.0h-4.0zM253.0 948.2h4.0v22.2h-4.0zM257.0 947.5h4.0v29.7h-4.0zM261.0 959.2h4.0v38.2h-4.0zM265.0 960.6h4.0v36.8h-4.0zM269.0 961.8h4.0v23.6h-4.0zM273.0 965.7h4.0v22.3h-4.0zM277.0 972.1h4.0v32.7h-4.0zM281.0 975.5h4.0v28.7h-4.0zM285.0 974.0h4.0v33.1h-4.0zM289.0 972.8h4.0v28.2h-4.0zM293.0 975.8h4.0v32.7h-4.0zM297.0 981.7h4.0v22.5h-4.0zM301.0 982.1h4.0v28.8h-4.0zM305.0 987.6h4.0v28.6h-4.0zM309.0 993.7h4.0v18.4h-4.0zM313.0 981.9h4.0v25.1h-4.0zM317.0 991.1h4.0v39.6h-4.0zM321.0 997.0h4.0v33.8h-4.0zM325.0 992.7h4.0v23.5h-4.0zM329.0 996.9h4.0v29.8h-4.0zM333.0 1001.6h4.0v25.2h-4.0zM337.0 997.1h4.0v36.5h-4.0zM341.0 1013.2h4.0v22.3h-4.0zM345.0 1018.5h4.0v21.7h-4.0zM349.0 1018.2h4.0v17.7h-4.0zM353.0 1013.2h4.0v37.6h-4.0zM357.0 1020.8h4.0v16.4h-4.0zM361.0 1014.9h4.0v27.0h-4.0zM365.0 1014.9h4.0v27.5h-4.0zM369.0 1023.6h4.0v24.2h-4.0zM373.0 1029.2h4.0v25.2h-4.0zM377.0 1027.7h4.0v17.2h-4.0zM381.0 1037.2h4.0v26.7h-4.0zM385.0 1035.6h4.0v21.9h-4.0zM389.0 1047.3h4.0v12.9h-4.0zM393.0 1040.0h4.0v33.0h-4.0zM397.0 1048.3h4.0v24.7h-4.0zM401.0 1050.2h4.0v23.5h-4.0zM405.0 1042.6h4.0v28.0h-4.0zM409.0 1039.7h4.0v31.8h-4.0zM413.0 1039.7h4.0v30.8h-4.0zM417.0 1048.2h4.0v29.6h-4.0zM421.0 1057.0h4.0v20.0h-4.0zM425.0 1055.8h4.0v15.1h-4.0zM429.0 1057.6h4.0v19.2h-4.0zM433.0 1053.6h4.0v39.0h-4.0zM437.0 1060.2h4.0v32.4h-4.0zM441.0 1059.3h4.0v33.2h-4.0zM445.0 1059.8h4.0v42.0h-4.0zM449.0 1075.7h4.0v23.3h-4.0zM453.0 1067.8h4.0v31.2h-4.0zM457.0 1067.8h4.0v30.2h-4.0zM461.0 1078.7h4.0v22.2h-4.0zM465.0 1080.7h4.0v23.0h-4.0zM469.0 1062.0h4.0v35.7h-4.0zM473.0 1079.4h4.0v42.8h-4.0zM477.0 1077.6h4.0v28.5h-4.0zM481.0 1079.8h4.0v18.2h-4.0zM485.0 1074.5h4.0v33.4h-4.0zM489.0 1086.7h4.0v21.2h-4.0zM493.0 1084.9h4.0v40.7h-4.0zM497.0 1094.6h4.0v20.6h-4.0zM501.0 1086.4h4.0v25.0h-4.0zM505.0 1094.1h4.0v17.2h-4.0zM509.0 1092.3h4.0v34.5h-4.0zM513.0 1098.7h4.0v21.1h-4.0zM517.0 1095.3h4.0v29.2h-4.0zM521.0 1095.9h4.0v24.0h-4.0zM525.0 1098.4h4.0v24.3h-4.0zM529.0 1094.3h4.0v41.2h-4.0zM533.0 1105.8h4.0v17.6h-4.0zM537.0 1103.8h4.0v15.3h-4.0zM541.0 1106.9h4.0v26.1h-4.0zM545.0 1111.3h4.0v27.9h-4.0zM549.0 1114.0h4.0v23.9h-4.0zM553.0 1112.1h4.0v20.3h-4.0zM557.0 1111.5h4.0v19.6h-4.0zM561.0 1116.1h4.0v19.1h-4.0zM565.0 1102.8h4.0v28.2h-4.0zM569.0 1120.3h4.0v31.5h-4.0zM573.0 1119.3h4.0v26.9h-4.0zM577.0 1124.1h4.0v22.3h-4.0zM581.0 1115.5h4.0v21.5h-4.0zM585.0 1119.3h4.0v28.9h-4.0zM589.0 1118.9h4.0v18.0h-4.0zM593.0 1119.3h4.0v24.1h-4.0zM597.0 1118.9h4.0v25.3h-4.0zM601.0 1130.9h4.0v21.3h-4.0zM605.0 1126.0h4.0v24.6h-4.0zM609.0 1135.6h4.0v17.0h-4.0zM613.0 1126.1h4.0v30.2h-4.0zM617.0 1128.0h4.0v32.2h-4.0zM621.0 1131.6h4.0v24.5h-4.0zM625.0 1133.1h4.0v31.7h-4.0zM629.0 1130.5h4.0v41.0h-4.0zM633.0 1137.5h4.0v44.8h-4.0zM637.0 1141.1h4.0v19.1h-4.0zM641.0 1126.6h4.0v34.2h-4.0zM645.0 1141.0h4.0v33.6h-4.0zM649.0 1139.9h4.0v25.9h-4.0zM653.0 1145.2h4.0v21.0h-4.0zM657.0 1142.4h4.0v22.6h-4.0zM661.0 1144.4h4.0v22.0h-4.0zM665.0 1145.4h4.0v31.4h-4.0zM669.0 1135.2h4.0v34.5h-4.0zM673.0 1151.3h4.0v33.2h-4.0zM677.0 1150.9h4.0v19.8h-4.0zM681.0 1146.8h4.0v23.9h-4.0zM685.0 1146.6h4.0v30.4h-4.0zM689.0 1151.9h4.0v25.0h-4.0zM693.0 1158.3h4.0v21.5h-4.0zM697.0 1148.7h4.0v25.1h-4.0zM701.0 1153.0h4.0v35.9h-4.0zM705.0 1150.7h4.0v27.2h-4.0zM709.0 1143.5h4.0v34.1h-4.0zM713.0 1146.0h4.0v31.2h-4.0zM717.0 1160.4h4.0v25.4h-4.0zM721.0 1162.0h4.0v24.4h-4.0zM725.0 1153.9h4.0v41.3h-4.0zM729.0 1158.8h4.0v36.4h-4.0zM733.0 1169.9h4.0v23.0h-4.0zM737.0 1156.7h4.0v48.3h-4.0zM741.0 1154.3h4.0v50.7h-4.0zM745.0 1161.5h4.0v28.9h-4.0zM749.0 1166.5h4.0v25.8h-4.0zM753.0 1167.1h4.0v17.9h-4.0zM757.0 1169.0h4.0v21.9h-4.0zM761.0 1163.7h4.0v33.2h-4.0zM765.0 1164.1h4.0v32.2h-4.0zM769.0 1172.8h4.0v27.8h-4.0zM773.0 1164.8h4.0v24.3h-4.0zM777.0 1162.6h4.0v33.4h-4.0zM781.0 1175.3h4.0v26.6h-4.0zM785.0 1170.6h4.0v32.0h-4.0zM789.0 1172.5h4.0v28.9h-4.0zM793.0 1181.3h4.0v35.7h-4.0zM797.0 1177.8h4.0v39.2h-4.0zM801.0 1174.2h4.0v21.8h-4.0zM805.0 1172.2h4.0v26.6h-4.0zM809.0 1176.9h4.0v24.6h-4.0zM813.0 1167.5h4.0v23.1h-4.0zM817.0 1174.0h4.0v32.7h-4.0zM821.0 1174.9h4.0v33.8h-4.0zM825.0 1189.8h4.0v21.8h-4.0zM829.0 1176.1h4.0v24.7h-4.0zM833.0 1182.2h4.0v24.3h-4.0zM837.0 1185.9h4.0v23.1h-4.0zM841.0 1178.9h4.0v24.6h-4.0zM845.0 1181.5h4.0v36.0h-4.0zM849.0 1184.5h4.0v25.5h-4.0zM853.0 1186.1h4.0v24.4h-4.0zM857.0 1182.3h4.0v25.8h-4.0zM861.0 1181.0h4.0v35.1h-4.0zM865.0 1180.3h4.0v20.2h-4.0zM869.0 1180.3h4.0v34.1h-4.0zM873.0 1181.5h4.0v32.8h-4.0zM877.0 1181.5h4.0v29.8h-4.0zM881.0 1178.1h4.0v37.8h-4.0zM885.0 1181.6h4.0v49.5h-4.0zM889.0 1193.4h4.0v19.7h-4.0zM893.0 1183.0h4.0v35.7h-4.0zM897.0 1175.3h4.0v43.4h-4.0zM901.0 1191.6h4.0v21.7h-4.0zM905.0 1193.1h4.0v21.8h-4.0zM909.0 1186.0h4.0v30.8h-4.0zM913.0 1184.7h4.0v27.7h-4.0zM917.0 1185.0h4.0v28.5h-4.0zM921.0 1183.6h4.0v31.7h-4.0zM925.0 1183.6h4.0v29.7h-4.0zM929.0 1194.9h4.0v26.6h-4.0zM933.0 1175.0h4.0v52.2h-4.0zM937.0 1196.0h4.0v40.6h-4.0zM941.0 1193.4h4.0v38.1h-4.0zM945.0 1200.4h4.0v19.6h-4.0zM949.0 1193.9h4.0v28.3h-4.0zM953.0 1195.5h4.0v26.6h-4.0zM957.0 1200.6h4.0v31.8h-4.0zM961.0 1199.1h4.0v33.3h-4.0zM965.0 1194.9h4.0v19.6h-4.0zM969.0 1202.5h4.0v26.0h-4.0zM973.0 1196.2h4.0v32.7h-4.0zM977.0 1196.9h4.0v30.9h-4.0zM981.0 1196.9h4.0v25.8h-4.0zM985.0 1199.3h4.0v29.4h-4.0zM989.0 1196.6h4.0v32.2h-4.0zM993.0 1199.7h4.0v35.7h-4.0zM997.0 1199.7h4.0v14.8h-4.0zM1001.0 1199.8h4.0v22.8h-4.0zM1005.0 1201.9h4.0v20.7h-4.0zM1009.0 1199.8h4.0v36.8h-4.0zM1013.0 1208.1h4.0v21.3h-4.0zM1017.0 1194.7h4.0v33.3h-4.0zM1021.0 1203.8h4.0v24.6h-4.0zM1025.0 1202.0h4.0v27.3h-4.0zM1029.0 1209.1h4.0v23.5h-4.0zM1033.0 1201.7h4.0v30.7h-4.0zM1037.0 1201.4h4.0v38.5h-4.0zM1041.0 1209.8h4.0v21.7h-4.0zM1045.0 1197.5h4.0v36.7h-4.0zM1049.0 1201.6h4.0v31.1h-4.0zM1053.0 1207.9h4.0v20.9h-4.0zM1057.0 1197.6h4.0v30.5h-4.0zM1061.0 1207.3h4.0v25.1h-4.0zM1065.0 1209.4h4.0v22.9h-4.0zM1069.0 1210.6h4.0v15.9h-4.0zM1073.0 1215.3h4.0v21.2h-4.0zM1077.0 1201.2h4.0v22.5h-4.0zM1081.0 1202.5h4.0v23.9h-4.0zM1085.0 1208.7h4.0v17.3h-4.0zM1089.0 1206.9h4.0v32.0h-4.0zM1093.0 1210.0h4.0v21.0h-4.0zM1097.0 1209.8h4.0v28.7h-4.0zM1101.0 1208.5h4.0v35.9h-4.0zM1105.0 1198.7h4.0v39.5h-4.0zM1109.0 1198.5h4.0v29.1h-4.0zM1113.0 1198.5h4.0v30.7h-4.0zM1117.0 1205.5h4.0v38.6h-4.0zM1121.0 1215.2h4.0v28.8h-4.0zM1125.0 1209.4h4.0v34.1h-4.0zM1129.0 1208.3h4.0v26.0h-4.0zM1133.0 1214.7h4.0v20.1h-4.0zM1137.0 1204.7h4.0v37.9h-4.0zM1141.0 1212.3h4.0v27.7h-4.0zM1145.0 1211.0h4.0v30.7h-4.0zM1149.0 1204.7h4.0v28.2h-4.0zM1153.0 1217.8h4.0v18.7h-4.0zM1157.0 1213.6h4.0v24.0h-4.0zM1161.0 1209.8h4.0v25.3h-4.0zM1165.0 1199.9h4.0v37.7h-4.0zM1169.0 1210.0h4.0v29.5h-4.0zM1173.0 1217.0h4.0v18.4h-4.0zM1177.0 1218.8h4.0v22.5h-4.0zM1181.0 1215.0h4.0v15.7h-4.0zM1185.0 1221.3h4.0v18.1h-4.0zM1189.0 1217.9h4.0v32.2h-4.0zM1193.0 1216.5h4.0v26.5h-4.0zM1197.0 1221.5h4.0v16.0h-4.0zM1201.0 1214.4h4.0v25.2h-4.0zM1205.0 1213.2h4.0v27.9h-4.0zM1209.0 1203.9h4.0v36.1h-4.0zM1213.0 1203.9h4.0v28.0h-4.0zM1217.0 1213.8h4.0v40.7h-4.0zM1221.0 1225.3h4.0v20.7h-4.0zM1225.0 1218.9h4.0v27.1h-4.0zM1229.0 1212.3h4.0v25.7h-4.0zM1233.0 1223.8h4.0v16.4h-4.0zM1237.0 1219.4h4.0v20.8h-4.0zM1241.0 1212.8h4.0v34.1h-4.0zM1245.0 1212.8h4.0v37.2h-4.0zM1249.0 1219.5h4.0v31.7h-4.0zM1253.0 1215.3h4.0v32.7h-4.0zM1257.0 1225.7h4.0v22.3h-4.0zM1261.0 1218.2h4.0v25.8h-4.0zM1265.0 1218.1h4.0v26.1h-4.0zM1269.0 1225.2h4.0v26.8h-4.0zM1273.0 1214.1h4.0v29.5h-4.0zM1277.0 1216.0h4.0v26.8h-4.0zM1281.0 1211.5h4.0v26.2h-4.0zM1285.0 1221.6h4.0v18.7h-4.0zM1289.0 1219.4h4.0v22.9h-4.0zM1293.0 1219.4h4.0v40.8h-4.0zM1297.0 1215.8h4.0v26.3h-4.0zM1301.0 1217.5h4.0v23.7h-4.0zM1305.0 1214.6h4.0v24.3h-4.0zM1309.0 1219.5h4.0v18.5h-4.0zM1313.0 1215.9h4.0v34.3h-4.0zM1317.0 1215.9h4.0v32.6h-4.0zM1321.0 1213.2h4.0v36.3h-4.0zM1325.0 1213.2h4.0v32.1h-4.0zM1329.0 1218.5h4.0v29.3h-4.0zM1333.0 1217.6h4.0v25.2h-4.0zM1337.0 1216.9h4.0v26.0h-4.0zM1341.0 1218.3h4.0v26.4h-4.0zM1345.0 1224.5h4.0v27.6h-4.0zM1349.0 1231.6h4.0v14.4h-4.0zM1353.0 1220.9h4.0v27.3h-4.0zM1357.0 1219.5h4.0v35.1h-4.0zM1361.0 1217.2h4.0v44.6h-4.0zM1365.0 1231.2h4.0v21.4h-4.0zM1369.0 1224.6h4.0v28.4h-4.0zM1373.0 1212.4h4.0v31.1h-4.0zM1377.0 1218.6h4.0v18.6h-4.0zM1381.0 1211.2h4.0v34.3h-4.0zM1385.0 1216.0h4.0v32.3h-4.0zM1389.0 1224.9h4.0v20.1h-4.0zM1393.0 1220.2h4.0v34.6h-4.0zM1397.0 1220.2h4.0v40.3h-4.0zM1401.0 1215.5h4.0v32.5h-4.0zM1405.0 1212.7h4.0v26.1h-4.0zM1409.0 1219.6h4.0v42.5h-4.0zM1413.0 1217.7h4.0v30.3h-4.0zM1417.0 1217.7h4.0v48.0h-4.0zM1421.0 1215.2h4.0v33.1h-4.0zM1425.0 1213.5h4.0v29.1h-4.0zM1429.0 1219.8h4.0v28.8h-4.0zM1433.0 1227.0h4.0v28.6h-4.0zM1437.0 1237.1h4.0v18.5h-4.0zM1441.0 1220.2h4.0v42.7h-4.0zM1445.0 1230.3h4.0v18.8h-4.0zM1449.0 1223.7h4.0v27.2h-4.0zM1453.0 1213.6h4.0v37.3h-4.0zM1457.0 1223.3h4.0v28.3h-4.0zM1461.0 1228.7h4.0v26.6h-4.0zM1465.0 1226.1h4.0v26.6h-4.0zM1469.0 1233.1h4.0v20.6h-4.0zM1473.0 1223.2h4.0v22.2h-4.0zM1477.0 1218.4h4.0v30.4h-4.0zM1481.0 1227.9h4.0v19.0h-4.0zM1485.0 1224.6h4.0v30.9h-4.0zM1489.0 1220.3h4.0v35.2h-4.0zM1493.0 1228.6h4.0v28.6h-4.0zM1497.0 1216.5h4.0v40.8h-4.0zM1501.0 1231.3h4.0v15.8h-4.0zM1505.0 1234.5h4.0v25.2h-4.0zM1509.0 1218.2h4.0v31.4h-4.0zM1513.0 1225.3h4.0v23.0h-4.0zM1517.0 1225.9h4.0v26.6h-4.0zM1521.0 1235.1h4.0v25.5h-4.0zM1525.0 1217.5h4.0v27.2h-4.0zM1529.0 1221.2h4.0v34.3h-4.0zM1533.0 1221.2h4.0v38.7h-4.0zM1537.0 1221.7h4.0v33.6h-4.0zM1541.0 1224.1h4.0v27.8h-4.0zM1545.0 1221.4h4.0v29.1h-4.0zM1549.0 1225.8h4.0v27.0h-4.0zM1553.0 1226.5h4.0v35.3h-4.0zM1557.0 1212.5h4.0v44.1h-4.0zM1561.0 1224.6h4.0v37.5h-4.0zM1565.0 1224.6h4.0v23.5h-4.0zM1569.0 1226.5h4.0v20.5h-4.0zM1573.0 1229.5h4.0v19.4h-4.0zM1577.0 1219.5h4.0v35.2h-4.0zM1581.0 1223.9h4.0v34.5h-4.0zM1585.0 1223.9h4.0v26.3h-4.0zM1589.0 1230.1h4.0v35.3h-4.0zM1593.0 1230.1h4.0v28.6h-4.0zM1597.0 1229.9h4.0v28.8h-4.0zM1601.0 1226.2h4.0v18.2h-4.0zM1605.0 1224.3h4.0v34.9h-4.0zM1609.0 1226.3h4.0v27.4h-4.0zM1613.0 1208.1h4.0v47.2h-4.0zM1617.0 1223.7h4.0v45.7h-4.0zM1621.0 1227.8h4.0v29.1h-4.0zM1625.0 1226.5h4.0v30.6h-4.0zM1629.0 1222.4h4.0v29.7h-4.0zM1633.0 1220.8h4.0v35.9h-4.0zM1637.0 1233.7h4.0v18.7h-4.0zM1641.0 1229.3h4.0v27.2h-4.0zM1645.0 1221.6h4.0v32.3h-4.0zM1649.0 1233.3h4.0v30.6h-4.0zM1653.0 1227.9h4.0v36.1h-4.0zM1657.0 1227.9h4.0v16.2h-4.0zM1661.0 1231.4h4.0v19.1h-4.0zM1665.0 1218.9h4.0v28.4h-4.0zM1669.0 1231.1h4.0v10.1h-4.0zM1673.0 1227.5h4.0v18.1h-4.0zM1677.0 1225.6h4.0v27.4h-4.0zM1681.0 1221.3h4.0v34.4h-4.0zM1685.0 1233.9h4.0v17.3h-4.0zM1689.0 1228.2h4.0v24.8h-4.0zM1693.0 1227.6h4.0v41.1h-4.0zM1697.0 1233.9h4.0v30.6h-4.0zM1701.0 1227.1h4.0v12.4h-4.0zM1705.0 1229.4h4.0v37.8h-4.0zM1709.0 1232.6h4.0v34.6h-4.0zM1713.0 1231.5h4.0v34.6h-4.0zM1717.0 1231.5h4.0v26.1h-4.0zM1721.0 1227.9h4.0v25.4h-4.0z" fill="#474a4a"/>
</g>
<path d="M240.3 951.9 L244.3 954.9 L248.3 957.8 L252.3 960.7 L256.3 963.6 L260.3 966.5 L264.3 969.4 L268.3 972.2 L272.3 975.0 L276.3 977.8 L280.3 980.6 L284.3 983.4 L288.3 986.1 L292.3 988.8 L296.3 991.5 L300.3 994.2 L304.3 996.9 L308.3 999.5 L312.3 1002.1 L316.3 1004.7 L320.3 1007.3 L324.3 1009.8 L328.3 1012.4 L332.3 1014.9 L336.3 1017.4 L340.3 1019.8 L344.3 1022.3 L348.3 1024.7 L352.3 1027.1 L356.3 1029.5 L360.3 1031.8 L364.3 1034.2 L368.3 1036.5 L372.3 1038.8 L376.3 1041.1 L380.3 1043.3 L384.3 1045.5 L388.3 1047.8 L392.3 1049.9 L396.3 1052.1 L400.3 1054.3 L404.3 1056.4 L408.3 1058.5 L412.3 1060.6 L416.3 1062.6 L420.3 1064.7 L424.3 1066.7 L428.3 1068.7 L432.3 1070.7 L436.3 1072.7 L440.3 1074.6 L444.3 1076.5 L448.3 1078.4 L452.3 1080.3 L456.3 1082.2 L460.3 1084.0 L464.3 1085.9 L468.3 1087.7 L472.3 1089.5 L476.3 1091.2 L480.3 1093.0 L484.3 1094.7 L488.3 1096.5 L492.3 1098.2 L496.3 1099.8 L500.3 1101.5 L504.3 1103.1 L508.3 1104.8 L512.3 1106.4 L516.3 1108.0 L520.3 1109.6 L524.3 1111.1 L528.3 1112.7 L532.3 1114.2 L536.3 1115.7 L540.3 1117.2 L544.3 1118.7 L548.3 1120.1 L552.3 1121.6 L556.3 1123.0 L560.3 1124.4 L564.3 1125.8 L568.3 1127.2 L572.3 1128.6 L576.3 1129.9 L580.3 1131.3 L584.3 1132.6 L588.3 1133.9 L592.3 1135.2 L596.3 1136.5 L600.3 1137.7 L604.3 1139.0 L608.3 1140.2 L612.3 1141.4 L616.3 1142.7 L620.3 1143.8 L624.3 1145.0 L628.3 1146.2 L632.3 1147.4 L636.3 1148.5 L640.3 1149.6 L644.3 1150.7 L648.3 1151.9 L652.3 1152.9 L656.3 1154.0 L660.3 1155.1 L664.3 1156.1 L668.3 1157.2 L672.3 1158.2 L676.3 1159.2 L680.3 1160.2 L684.3 1161.2 L688.3 1162.2 L692.3 1163.2 L696.3 1164.2 L700.3 1165.1 L704.3 1166.1 L708.3 1167.0 L712.3 1167.9 L716.3 1168.8 L720.3 1169.7 L724.3 1170.6 L728.3 1171.5 L732.3 1172.3 L736.3 1173.2 L740.3 1174.1 L744.3 1174.9 L748.3 1175.7 L752.3 1176.5 L756.3 1177.3 L760.3 1178.1 L764.3 1178.9 L768.3 1179.7 L772.3 1180.5 L776.3 1181.3 L780.3 1182.0 L784.3 1182.8 L788.3 1183.5 L792.3 1184.2 L796.3 1184.9 L800.3 1185.6 L804.3 1186.3 L808.3 1187.0 L812.3 1187.7 L816.3 1188.4 L820.3 1189.1 L824.3 1189.7 L828.3 1190.4 L832.3 1191.0 L836.3 1191.7 L840.3 1192.3 L844.3 1192.9 L848.3 1193.6 L852.3 1194.2 L856.3 1194.8 L860.3 1195.4 L864.3 1196.0 L868.3 1196.5 L872.3 1197.1 L876.3 1197.7 L880.3 1198.2 L884.3 1198.8 L888.3 1199.3 L892.3 1199.9 L896.3 1200.4 L900.3 1201.0 L904.3 1201.5 L908.3 1202.0 L912.3 1202.5 L916.3 1203.0 L920.3 1203.5 L924.3 1204.0 L928.3 1204.5 L932.3 1205.0 L936.3 1205.4 L940.3 1205.9 L944.3 1206.4 L948.3 1206.8 L952.3 1207.3 L956.3 1207.7 L960.3 1208.2 L964.3 1208.6 L968.3 1209.1 L972.3 1209.5 L976.3 1209.9 L980.3 1210.3 L984.3 1210.7 L988.3 1211.1 L992.3 1211.5 L996.3 1211.9 L1000.3 1212.3 L1004.3 1212.7 L1008.3 1213.1 L1012.3 1213.5 L1016.3 1213.9 L1020.3 1214.2 L1024.3 1214.6 L1028.3 1215.0 L1032.3 1215.3 L1036.3 1215.7 L1040.3 1216.0 L1044.3 1216.4 L1048.3 1216.7 L1052.3 1217.0 L1056.3 1217.4 L1060.3 1217.7 L1064.3 1218.0 L1068.3 1218.3 L1072.3 1218.7 L1076.3 1219.0 L1080.3 1219.3 L1084.3 1219.6 L1088.3 1219.9 L1092.3 1220.2 L1096.3 1220.5 L1100.3 1220.8 L1104.3 1221.1 L1108.3 1221.3 L1112.3 1221.6 L1116.3 1221.9 L1120.3 1222.2 L1124.3 1222.5 L1128.3 1222.7 L1132.3 1223.0 L1136.3 1223.2 L1140.3 1223.5 L1144.3 1223.8 L1148.3 1224.0 L1152.3 1224.3 L1156.3 1224.5 L1160.3 1224.8 L1164.3 1225.0 L1168.3 1225.2 L1172.3 1225.5 L1176.3 1225.7 L1180.3 1225.9 L1184.3 1226.2 L1188.3 1226.4 L1192.3 1226.6 L1196.3 1226.8 L1200.3 1227.0 L1204.3 1227.2 L1208.3 1227.5 L1212.3 1227.7 L1216.3 1227.9 L1220.3 1228.1 L1224.3 1228.3 L1228.3 1228.5 L1232.3 1228.7 L1236.3 1228.9 L1240.3 1229.1 L1244.3 1229.2 L1248.3 1229.4 L1252.3 1229.6 L1256.3 1229.8 L1260.3 1230.0 L1264.3 1230.2 L1268.3 1230.3 L1272.3 1230.5 L1276.3 1230.7 L1280.3 1230.8 L1284.3 1231.0 L1288.3 1231.2 L1292.3 1231.3 L1296.3 1231.5 L1300.3 1231.7 L1304.3 1231.8 L1308.3 1232.0 L1312.3 1232.1 L1316.3 1232.3 L1320.3 1232.4 L1324.3 1232.6 L1328.3 1232.7 L1332.3 1232.9 L1336.3 1233.0 L1340.3 1233.2 L1344.3 1233.3 L1348.3 1233.4 L1352.3 1233.6 L1356.3 1233.7 L1360.3 1233.9 L1364.3 1234.0 L1368.3 1234.1 L1372.3 1234.2 L1376.3 1234.4 L1380.3 1234.5 L1384.3 1234.6 L1388.3 1234.7 L1392.3 1234.9 L1396.3 1235.0 L1400.3 1235.1 L1404.3 1235.2 L1408.3 1235.3 L1412.3 1235.4 L1416.3 1235.6 L1420.3 1235.7 L1424.3 1235.8 L1428.3 1235.9 L1432.3 1236.0 L1436.3 1236.1 L1440.3 1236.2 L1444.3 1236.3 L1448.3 1236.4 L1452.3 1236.5 L1456.3 1236.6 L1460.3 1236.7 L1464.3 1236.8 L1468.3 1236.9 L1472.3 1237.0 L1476.3 1237.1 L1480.3 1237.2 L1484.3 1237.3 L1488.3 1237.4 L1492.3 1237.5 L1496.3 1237.6 L1500.3 1237.6 L1504.3 1237.7 L1508.3 1237.8 L1512.3 1237.9 L1516.3 1238.0 L1520.3 1238.1 L1524.3 1238.1 L1528.3 1238.2 L1532.3 1238.3 L1536.3 1238.4 L1540.3 1238.5 L1544.3 1238.5 L1548.3 1238.6 L1552.3 1238.7 L1556.3 1238.8 L1560.3 1238.8 L1564.3 1238.9 L1568.3 1239.0 L1572.3 1239.0 L1576.3 1239.1 L1580.3 1239.2 L1584.3 1239.3 L1588.3 1239.3 L1592.3 1239.4 L1596.3 1239.5 L1600.3 1239.5 L1604.3 1239.6 L1608.3 1239.6 L1612.3 1239.7 L1616.3 1239.8 L1620.3 1239.8 L1624.3 1239.9 L1628.3 1240.0 L1632.3 1240.0 L1636.3 1240.1 L1640.3 1240.1 L1644.3 1240.2 L1648.3 1240.2 L1652.3 1240.3 L1656.3 1240.3 L1660.3 1240.4 L1664.3 1240.5 L1668.3 1240.5 L1672.3 1240.6 L1676.3 1240.6 L1680.3 1240.7 L1684.3 1240.7 L1688.3 1240.8 L1692.3 1240.8 L1696.3 1240.9 L1700.3 1240.9 L1704.3 1241.0 L1708.3 1241.0 L1712.3 1241.1 L1716.3 1241.1 L1720.3 1241.1" fill="none" stroke="#ff3232" stroke-width="5.4" stroke-linecap="round"/>
</g>
<g clip-path="url(#c3)">
<g filter="url(#bl)">
<path d="M233.2 1765.0 L233.2 1659.0 L239.7 1691.0 L239.7 1359.0" fill="none" stroke="#474a4a" stroke-width="4.4" stroke-linejoin="miter"/>
<path d="M237.7 1357.0h4.0v34.4h-4.0zM241.7 1371.4h4.0v29.8h-4.0zM245.7 1377.2h4.0v26.1h-4.0zM249.7 1374.5h4.0v35.7h-4.0zM253.7 1385.1h4.0v29.5h-4.0zM257.7 1392.4h4.0v26.5h-4.0zM261.7 1393.6h4.0v22.1h-4.0zM265.7 1395.4h4.0v19.8h-4.0zM269.7 1409.5h4.0v7.5h-4.0zM273.7 1393.7h4.0v28.6h-4.0zM277.7 1403.4h4.0v23.8h-4.0zM281.7 1408.3h4.0v13.1h-4.0zM285.7 1405.0h4.0v28.5h-4.0zM289.7 1405.0h4.0v29.4h-4.0zM293.7 1420.4h4.0v23.3h-4.0zM297.7 1408.8h4.0v30.5h-4.0zM301.7 1430.0h4.0v15.2h-4.0zM305.7 1422.8h4.0v18.3h-4.0zM309.7 1428.0h4.0v12.6h-4.0zM313.7 1429.3h4.0v24.7h-4.0zM317.7 1433.2h4.0v14.5h-4.0zM321.7 1432.1h4.0v29.3h-4.0zM325.7 1429.0h4.0v21.0h-4.0zM329.7 1435.5h4.0v18.2h-4.0zM333.7 1443.0h4.0v34.1h-4.0zM337.7 1443.0h4.0v23.3h-4.0zM341.7 1452.0h4.0v15.0h-4.0zM345.7 1452.0h4.0v17.4h-4.0zM349.7 1455.9h4.0v15.6h-4.0zM353.7 1449.6h4.0v43.0h-4.0zM357.7 1453.1h4.0v24.8h-4.0zM361.7 1458.2h4.0v25.5h-4.0zM365.7 1461.0h4.0v38.9h-4.0zM369.7 1461.0h4.0v28.1h-4.0zM373.7 1468.9h4.0v20.2h-4.0zM377.7 1467.4h4.0v22.5h-4.0zM381.7 1467.4h4.0v34.8h-4.0zM385.7 1473.8h4.0v24.8h-4.0zM389.7 1471.4h4.0v23.2h-4.0zM393.7 1470.3h4.0v31.4h-4.0zM397.7 1486.8h4.0v11.9h-4.0zM401.7 1482.9h4.0v22.9h-4.0zM405.7 1482.9h4.0v29.7h-4.0zM409.7 1486.8h4.0v15.4h-4.0zM413.7 1483.9h4.0v19.8h-4.0zM417.7 1487.3h4.0v21.6h-4.0zM421.7 1496.3h4.0v18.3h-4.0zM425.7 1482.3h4.0v35.5h-4.0zM429.7 1495.2h4.0v23.1h-4.0zM433.7 1495.2h4.0v24.5h-4.0zM437.7 1495.5h4.0v28.2h-4.0zM441.7 1492.5h4.0v29.5h-4.0zM445.7 1501.9h4.0v35.0h-4.0zM449.7 1501.9h4.0v26.1h-4.0zM453.7 1513.8h4.0v16.1h-4.0zM457.7 1510.6h4.0v25.6h-4.0zM461.7 1510.0h4.0v25.6h-4.0zM465.7 1517.9h4.0v15.5h-4.0zM469.7 1514.3h4.0v22.3h-4.0zM473.7 1518.9h4.0v23.6h-4.0zM477.7 1516.9h4.0v25.6h-4.0zM481.7 1516.8h4.0v24.3h-4.0zM485.7 1523.6h4.0v21.6h-4.0zM489.7 1527.7h4.0v24.3h-4.0zM493.7 1517.3h4.0v33.5h-4.0zM497.7 1529.9h4.0v37.4h-4.0zM501.7 1532.6h4.0v29.6h-4.0zM505.7 1539.0h4.0v18.6h-4.0zM509.7 1536.2h4.0v31.7h-4.0zM513.7 1529.5h4.0v31.7h-4.0zM517.7 1534.1h4.0v36.4h-4.0zM521.7 1534.1h4.0v26.0h-4.0zM525.7 1536.0h4.0v25.0h-4.0zM529.7 1539.0h4.0v27.2h-4.0zM533.7 1539.0h4.0v27.6h-4.0zM537.7 1540.9h4.0v23.4h-4.0zM541.7 1538.7h4.0v33.1h-4.0zM545.7 1554.1h4.0v17.7h-4.0zM549.7 1560.6h4.0v11.7h-4.0zM553.7 1555.9h4.0v27.3h-4.0zM557.7 1554.1h4.0v22.5h-4.0zM561.7 1546.4h4.0v31.1h-4.0zM565.7 1559.4h4.0v13.5h-4.0zM569.7 1553.4h4.0v19.5h-4.0zM573.7 1551.1h4.0v37.4h-4.0zM577.7 1557.6h4.0v17.4h-4.0zM581.7 1562.7h4.0v20.7h-4.0zM585.7 1562.2h4.0v21.1h-4.0zM589.7 1562.8h4.0v22.5h-4.0zM593.7 1564.1h4.0v15.5h-4.0zM597.7 1560.3h4.0v25.9h-4.0zM601.7 1556.2h4.0v29.0h-4.0zM605.7 1565.9h4.0v19.8h-4.0zM609.7 1572.0h4.0v19.6h-4.0zM613.7 1572.3h4.0v23.5h-4.0zM617.7 1571.0h4.0v38.2h-4.0zM621.7 1570.3h4.0v38.9h-4.0zM625.7 1578.5h4.0v14.5h-4.0zM629.7 1570.7h4.0v37.7h-4.0zM633.7 1570.7h4.0v32.4h-4.0zM637.7 1576.9h4.0v19.2h-4.0zM641.7 1573.9h4.0v32.7h-4.0zM645.7 1572.2h4.0v39.3h-4.0zM649.7 1572.2h4.0v31.3h-4.0zM653.7 1590.2h4.0v14.0h-4.0zM657.7 1571.8h4.0v32.0h-4.0zM661.7 1579.2h4.0v30.8h-4.0zM665.7 1588.5h4.0v16.6h-4.0zM669.7 1583.5h4.0v37.6h-4.0zM673.7 1578.3h4.0v32.5h-4.0zM677.7 1586.7h4.0v26.8h-4.0zM681.7 1586.0h4.0v36.9h-4.0zM685.7 1594.9h4.0v20.1h-4.0zM689.7 1599.4h4.0v17.2h-4.0zM693.7 1593.9h4.0v21.4h-4.0zM697.7 1590.2h4.0v29.7h-4.0zM701.7 1590.7h4.0v25.4h-4.0zM705.7 1590.2h4.0v36.3h-4.0zM709.7 1603.2h4.0v23.5h-4.0zM713.7 1592.5h4.0v34.3h-4.0zM717.7 1598.2h4.0v17.7h-4.0zM721.7 1601.3h4.0v19.5h-4.0zM725.7 1588.7h4.0v32.9h-4.0zM729.7 1606.6h4.0v32.9h-4.0zM733.7 1598.7h4.0v17.1h-4.0zM737.7 1600.3h4.0v28.0h-4.0zM741.7 1604.1h4.0v28.1h-4.0zM745.7 1611.2h4.0v16.9h-4.0zM749.7 1604.3h4.0v24.8h-4.0zM753.7 1604.3h4.0v28.9h-4.0zM757.7 1603.4h4.0v26.9h-4.0zM761.7 1603.4h4.0v46.2h-4.0zM765.7 1611.3h4.0v38.3h-4.0zM769.7 1610.7h4.0v20.9h-4.0zM773.7 1610.7h4.0v36.5h-4.0zM777.7 1610.3h4.0v26.8h-4.0zM781.7 1609.2h4.0v27.2h-4.0zM785.7 1609.0h4.0v27.9h-4.0zM789.7 1618.7h4.0v20.8h-4.0zM793.7 1613.0h4.0v28.5h-4.0zM797.7 1616.5h4.0v22.2h-4.0zM801.7 1616.7h4.0v29.3h-4.0zM805.7 1620.0h4.0v16.7h-4.0zM809.7 1610.7h4.0v37.2h-4.0zM813.7 1612.1h4.0v22.9h-4.0zM817.7 1615.7h4.0v20.1h-4.0zM821.7 1624.0h4.0v19.0h-4.0zM825.7 1615.9h4.0v38.0h-4.0zM829.7 1609.6h4.0v32.9h-4.0zM833.7 1622.4h4.0v20.6h-4.0zM837.7 1622.7h4.0v27.2h-4.0zM841.7 1629.8h4.0v20.1h-4.0zM845.7 1630.9h4.0v12.2h-4.0zM849.7 1622.8h4.0v31.9h-4.0zM853.7 1623.7h4.0v23.9h-4.0zM857.7 1627.5h4.0v16.1h-4.0zM861.7 1635.6h4.0v18.3h-4.0zM865.7 1632.7h4.0v25.8h-4.0zM869.7 1619.6h4.0v34.3h-4.0zM873.7 1630.5h4.0v24.3h-4.0zM877.7 1623.9h4.0v23.1h-4.0zM881.7 1631.3h4.0v21.0h-4.0zM885.7 1631.7h4.0v21.7h-4.0zM889.7 1624.6h4.0v30.2h-4.0zM893.7 1624.6h4.0v35.7h-4.0zM897.7 1627.8h4.0v32.0h-4.0zM901.7 1638.3h4.0v19.2h-4.0zM905.7 1632.0h4.0v25.5h-4.0zM909.7 1626.8h4.0v26.8h-4.0zM913.7 1633.4h4.0v35.0h-4.0zM917.7 1625.2h4.0v40.3h-4.0zM921.7 1639.6h4.0v19.6h-4.0zM925.7 1627.9h4.0v33.2h-4.0zM929.7 1627.9h4.0v37.1h-4.0zM933.7 1635.3h4.0v34.0h-4.0zM937.7 1638.8h4.0v30.6h-4.0zM941.7 1639.9h4.0v23.2h-4.0zM945.7 1630.3h4.0v27.4h-4.0zM949.7 1642.4h4.0v16.8h-4.0zM953.7 1642.4h4.0v32.7h-4.0zM957.7 1628.3h4.0v37.3h-4.0zM961.7 1648.0h4.0v27.0h-4.0zM965.7 1638.0h4.0v29.1h-4.0zM969.7 1638.0h4.0v29.7h-4.0zM973.7 1631.0h4.0v36.6h-4.0zM977.7 1642.9h4.0v23.9h-4.0zM981.7 1641.7h4.0v26.7h-4.0zM985.7 1641.4h4.0v22.3h-4.0zM989.7 1643.2h4.0v32.6h-4.0zM993.7 1639.6h4.0v23.6h-4.0zM997.7 1641.5h4.0v24.5h-4.0zM1001.7 1641.5h4.0v30.5h-4.0zM1005.7 1640.2h4.0v37.5h-4.0zM1009.7 1648.8h4.0v39.7h-4.0zM1013.7 1638.8h4.0v31.2h-4.0zM1017.7 1642.5h4.0v27.2h-4.0zM1021.7 1640.8h4.0v26.1h-4.0zM1025.7 1645.8h4.0v21.7h-4.0zM1029.7 1651.8h4.0v27.5h-4.0zM1033.7 1631.3h4.0v48.0h-4.0zM1037.7 1647.9h4.0v26.8h-4.0zM1041.7 1652.6h4.0v29.8h-4.0zM1045.7 1653.5h4.0v15.5h-4.0zM1049.7 1653.5h4.0v26.5h-4.0zM1053.7 1650.9h4.0v20.4h-4.0zM1057.7 1649.5h4.0v22.2h-4.0zM1061.7 1643.5h4.0v32.8h-4.0zM1065.7 1650.4h4.0v25.9h-4.0zM1069.7 1651.2h4.0v33.8h-4.0zM1073.7 1655.5h4.0v19.5h-4.0zM1077.7 1655.5h4.0v25.0h-4.0zM1081.7 1653.4h4.0v33.4h-4.0zM1085.7 1642.6h4.0v36.6h-4.0zM1089.7 1654.3h4.0v24.9h-4.0zM1093.7 1654.3h4.0v26.5h-4.0zM1097.7 1655.3h4.0v22.7h-4.0zM1101.7 1659.2h4.0v16.4h-4.0zM1105.7 1653.1h4.0v27.1h-4.0zM1109.7 1654.7h4.0v25.6h-4.0zM1113.7 1644.2h4.0v28.0h-4.0zM1117.7 1655.7h4.0v26.6h-4.0zM1121.7 1651.3h4.0v26.4h-4.0zM1125.7 1651.9h4.0v28.5h-4.0zM1129.7 1653.7h4.0v36.0h-4.0zM1133.7 1651.8h4.0v33.4h-4.0zM1137.7 1656.4h4.0v26.4h-4.0zM1141.7 1658.8h4.0v29.1h-4.0zM1145.7 1664.2h4.0v19.4h-4.0zM1149.7 1663.6h4.0v19.0h-4.0zM1153.7 1659.6h4.0v24.3h-4.0zM1157.7 1654.4h4.0v35.8h-4.0zM1161.7 1658.2h4.0v19.5h-4.0zM1165.7 1664.2h4.0v14.4h-4.0zM1169.7 1664.2h4.0v13.1h-4.0zM1173.7 1664.6h4.0v19.1h-4.0zM1177.7 1665.8h4.0v17.3h-4.0zM1181.7 1669.3h4.0v25.6h-4.0zM1185.7 1665.8h4.0v17.3h-4.0zM1189.7 1658.6h4.0v24.5h-4.0zM1193.7 1671.7h4.0v15.8h-4.0zM1197.7 1670.1h4.0v28.7h-4.0zM1201.7 1663.0h4.0v23.5h-4.0zM1205.7 1658.1h4.0v27.9h-4.0zM1209.7 1656.4h4.0v35.4h-4.0zM1213.7 1656.4h4.0v24.8h-4.0zM1217.7 1662.1h4.0v31.7h-4.0zM1221.7 1661.9h4.0v31.9h-4.0zM1225.7 1662.9h4.0v23.9h-4.0zM1229.7 1662.8h4.0v24.7h-4.0zM1233.7 1669.0h4.0v14.7h-4.0zM1237.7 1660.8h4.0v25.0h-4.0zM1241.7 1659.6h4.0v32.7h-4.0zM1245.7 1659.6h4.0v29.5h-4.0zM1249.7 1661.7h4.0v31.6h-4.0zM1253.7 1667.1h4.0v24.2h-4.0zM1257.7 1669.2h4.0v22.0h-4.0zM1261.7 1673.7h4.0v15.2h-4.0zM1265.7 1665.4h4.0v29.4h-4.0zM1269.7 1668.5h4.0v27.3h-4.0zM1273.7 1659.8h4.0v23.8h-4.0zM1277.7 1659.8h4.0v26.7h-4.0zM1281.7 1664.1h4.0v25.4h-4.0zM1285.7 1658.1h4.0v29.2h-4.0zM1289.7 1670.2h4.0v20.9h-4.0zM1293.7 1665.2h4.0v28.7h-4.0zM1297.7 1665.2h4.0v33.6h-4.0zM1301.7 1664.0h4.0v31.8h-4.0zM1305.7 1663.5h4.0v32.3h-4.0zM1309.7 1677.4h4.0v21.6h-4.0zM1313.7 1676.1h4.0v22.9h-4.0zM1317.7 1669.8h4.0v20.7h-4.0zM1321.7 1671.4h4.0v22.9h-4.0zM1325.7 1667.2h4.0v15.5h-4.0zM1329.7 1670.5h4.0v13.8h-4.0zM1333.7 1671.4h4.0v19.3h-4.0zM1337.7 1668.9h4.0v25.8h-4.0zM1341.7 1665.8h4.0v35.3h-4.0zM1345.7 1662.0h4.0v30.9h-4.0zM1349.7 1665.7h4.0v36.8h-4.0zM1353.7 1665.7h4.0v32.4h-4.0zM1357.7 1669.7h4.0v20.3h-4.0zM1361.7 1672.5h4.0v30.0h-4.0zM1365.7 1671.1h4.0v18.2h-4.0zM1369.7 1676.0h4.0v20.5h-4.0zM1373.7 1666.5h4.0v25.9h-4.0zM1377.7 1665.1h4.0v27.3h-4.0zM1381.7 1677.2h4.0v17.2h-4.0zM1385.7 1668.8h4.0v30.8h-4.0zM1389.7 1667.1h4.0v32.6h-4.0zM1393.7 1678.2h4.0v17.6h-4.0zM1397.7 1675.7h4.0v24.6h-4.0zM1401.7 1670.2h4.0v30.1h-4.0zM1405.7 1665.1h4.0v32.3h-4.0zM1409.7 1677.4h4.0v25.3h-4.0zM1413.7 1674.9h4.0v26.8h-4.0zM1417.7 1674.9h4.0v14.1h-4.0zM1421.7 1671.0h4.0v22.9h-4.0zM1425.7 1671.0h4.0v25.8h-4.0zM1429.7 1669.4h4.0v23.8h-4.0zM1433.7 1670.8h4.0v28.4h-4.0zM1437.7 1667.6h4.0v25.9h-4.0zM1441.7 1674.7h4.0v26.6h-4.0zM1445.7 1681.1h4.0v16.2h-4.0zM1449.7 1676.8h4.0v27.6h-4.0zM1453.7 1673.0h4.0v34.5h-4.0zM1457.7 1674.0h4.0v27.7h-4.0zM1461.7 1676.3h4.0v26.0h-4.0zM1465.7 1671.1h4.0v28.7h-4.0zM1469.7 1679.0h4.0v23.6h-4.0zM1473.7 1679.0h4.0v15.7h-4.0zM1477.7 1678.2h4.0v18.3h-4.0zM1481.7 1678.2h4.0v23.6h-4.0zM1485.7 1675.7h4.0v25.2h-4.0zM1489.7 1680.4h4.0v19.6h-4.0zM1493.7 1675.5h4.0v28.9h-4.0zM1497.7 1676.6h4.0v20.5h-4.0zM1501.7 1675.6h4.0v28.8h-4.0zM1505.7 1680.7h4.0v26.8h-4.0zM1509.7 1682.1h4.0v13.3h-4.0zM1513.7 1678.2h4.0v31.8h-4.0zM1517.7 1665.1h4.0v44.8h-4.0zM1521.7 1680.1h4.0v15.0h-4.0zM1525.7 1686.6h4.0v12.9h-4.0zM1529.7 1690.4h4.0v21.9h-4.0zM1533.7 1677.7h4.0v23.5h-4.0zM1537.7 1674.8h4.0v23.7h-4.0zM1541.7 1679.0h4.0v25.3h-4.0zM1545.7 1677.0h4.0v26.3h-4.0zM1549.7 1677.0h4.0v23.8h-4.0zM1553.7 1683.3h4.0v26.2h-4.0zM1557.7 1682.1h4.0v16.1h-4.0zM1561.7 1682.1h4.0v26.5h-4.0zM1565.7 1672.6h4.0v32.1h-4.0zM1569.7 1676.0h4.0v30.4h-4.0zM1573.7 1676.9h4.0v33.8h-4.0zM1577.7 1673.5h4.0v21.2h-4.0zM1581.7 1684.8h4.0v26.1h-4.0zM1585.7 1684.6h4.0v23.4h-4.0zM1589.7 1683.7h4.0v24.4h-4.0zM1593.7 1677.9h4.0v22.3h-4.0zM1597.7 1677.2h4.0v18.6h-4.0zM1601.7 1680.6h4.0v20.2h-4.0zM1605.7 1673.5h4.0v35.3h-4.0zM1609.7 1687.4h4.0v25.9h-4.0zM1613.7 1674.0h4.0v29.7h-4.0zM1617.7 1682.8h4.0v22.6h-4.0zM1621.7 1678.9h4.0v33.6h-4.0zM1625.7 1668.6h4.0v33.1h-4.0zM1629.7 1668.6h4.0v35.7h-4.0zM1633.7 1676.8h4.0v30.4h-4.0zM1637.7 1675.9h4.0v31.6h-4.0zM1641.7 1675.9h4.0v29.3h-4.0zM1645.7 1679.8h4.0v26.6h-4.0zM1649.7 1683.8h4.0v27.9h-4.0zM1653.7 1679.7h4.0v32.1h-4.0zM1657.7 1676.0h4.0v38.1h-4.0zM1661.7 1672.6h4.0v41.6h-4.0zM1665.7 1672.6h4.0v34.4h-4.0zM1669.7 1687.4h4.0v30.8h-4.0zM1673.7 1685.9h4.0v24.9h-4.0zM1677.7 1691.3h4.0v19.5h-4.0zM1681.7 1676.2h4.0v41.8h-4.0zM1685.7 1683.4h4.0v13.5h-4.0zM1689.7 1684.0h4.0v25.5h-4.0zM1693.7 1683.4h4.0v24.1h-4.0zM1697.7 1684.9h4.0v34.9h-4.0zM1701.7 1683.7h4.0v21.5h-4.0zM1705.7 1686.6h4.0v20.5h-4.0zM1709.7 1679.2h4.0v24.8h-4.0zM1713.7 1682.1h4.0v23.3h-4.0zM1717.7 1678.2h4.0v30.7h-4.0zM1721.7 1681.0h4.0v24.5h-4.0z" fill="#474a4a"/>
</g>
<path d="M240.3 1383.6 L244.3 1386.9 L248.3 1390.1 L252.3 1393.3 L256.3 1396.5 L260.3 1399.6 L264.3 1402.7 L268.3 1405.8 L272.3 1408.9 L276.3 1411.9 L280.3 1414.8 L284.3 1417.8 L288.3 1420.7 L292.3 1423.6 L296.3 1426.5 L300.3 1429.3 L304.3 1432.1 L308.3 1434.9 L312.3 1437.6 L316.3 1440.3 L320.3 1443.0 L324.3 1445.7 L328.3 1448.3 L332.3 1450.9 L336.3 1453.5 L340.3 1456.0 L344.3 1458.5 L348.3 1461.0 L352.3 1463.5 L356.3 1465.9 L360.3 1468.3 L364.3 1470.7 L368.3 1473.1 L372.3 1475.5 L376.3 1477.8 L380.3 1480.1 L384.3 1482.3 L388.3 1484.6 L392.3 1486.8 L396.3 1489.0 L400.3 1491.2 L404.3 1493.3 L408.3 1495.5 L412.3 1497.6 L416.3 1499.7 L420.3 1501.7 L424.3 1503.8 L428.3 1505.8 L432.3 1507.8 L436.3 1509.8 L440.3 1511.7 L444.3 1513.7 L448.3 1515.6 L452.3 1517.5 L456.3 1519.4 L460.3 1521.3 L464.3 1523.1 L468.3 1524.9 L472.3 1526.7 L476.3 1528.5 L480.3 1530.3 L484.3 1532.0 L488.3 1533.8 L492.3 1535.5 L496.3 1537.2 L500.3 1538.8 L504.3 1540.5 L508.3 1542.1 L512.3 1543.8 L516.3 1545.4 L520.3 1547.0 L524.3 1548.5 L528.3 1550.1 L532.3 1551.6 L536.3 1553.2 L540.3 1554.7 L544.3 1556.2 L548.3 1557.6 L552.3 1559.1 L556.3 1560.6 L560.3 1562.0 L564.3 1563.4 L568.3 1564.8 L572.3 1566.2 L576.3 1567.6 L580.3 1568.9 L584.3 1570.3 L588.3 1571.6 L592.3 1572.9 L596.3 1574.2 L600.3 1575.5 L604.3 1576.8 L608.3 1578.1 L612.3 1579.3 L616.3 1580.6 L620.3 1581.8 L624.3 1583.0 L628.3 1584.2 L632.3 1585.4 L636.3 1586.6 L640.3 1587.7 L644.3 1588.9 L648.3 1590.0 L652.3 1591.2 L656.3 1592.3 L660.3 1593.4 L664.3 1594.5 L668.3 1595.6 L672.3 1596.6 L676.3 1597.7 L680.3 1598.7 L684.3 1599.8 L688.3 1600.8 L692.3 1601.8 L696.3 1602.8 L700.3 1603.8 L704.3 1604.8 L708.3 1605.8 L712.3 1606.7 L716.3 1607.7 L720.3 1608.6 L724.3 1609.6 L728.3 1610.5 L732.3 1611.4 L736.3 1612.3 L740.3 1613.2 L744.3 1614.1 L748.3 1615.0 L752.3 1615.9 L756.3 1616.7 L760.3 1617.6 L764.3 1618.4 L768.3 1619.2 L772.3 1620.1 L776.3 1620.9 L780.3 1621.7 L784.3 1622.5 L788.3 1623.3 L792.3 1624.1 L796.3 1624.9 L800.3 1625.6 L804.3 1626.4 L808.3 1627.1 L812.3 1627.9 L816.3 1628.6 L820.3 1629.3 L824.3 1630.1 L828.3 1630.8 L832.3 1631.5 L836.3 1632.2 L840.3 1632.9 L844.3 1633.6 L848.3 1634.2 L852.3 1634.9 L856.3 1635.6 L860.3 1636.2 L864.3 1636.9 L868.3 1637.5 L872.3 1638.2 L876.3 1638.8 L880.3 1639.4 L884.3 1640.0 L888.3 1640.6 L892.3 1641.3 L896.3 1641.9 L900.3 1642.4 L904.3 1643.0 L908.3 1643.6 L912.3 1644.2 L916.3 1644.8 L920.3 1645.3 L924.3 1645.9 L928.3 1646.4 L932.3 1647.0 L936.3 1647.5 L940.3 1648.0 L944.3 1648.6 L948.3 1649.1 L952.3 1649.6 L956.3 1650.1 L960.3 1650.6 L964.3 1651.1 L968.3 1651.6 L972.3 1652.1 L976.3 1652.6 L980.3 1653.1 L984.3 1653.6 L988.3 1654.1 L992.3 1654.5 L996.3 1655.0 L1000.3 1655.4 L1004.3 1655.9 L1008.3 1656.3 L1012.3 1656.8 L1016.3 1657.2 L1020.3 1657.7 L1024.3 1658.1 L1028.3 1658.5 L1032.3 1658.9 L1036.3 1659.4 L1040.3 1659.8 L1044.3 1660.2 L1048.3 1660.6 L1052.3 1661.0 L1056.3 1661.4 L1060.3 1661.8 L1064.3 1662.2 L1068.3 1662.6 L1072.3 1662.9 L1076.3 1663.3 L1080.3 1663.7 L1084.3 1664.1 L1088.3 1664.4 L1092.3 1664.8 L1096.3 1665.1 L1100.3 1665.5 L1104.3 1665.8 L1108.3 1666.2 L1112.3 1666.5 L1116.3 1666.9 L1120.3 1667.2 L1124.3 1667.5 L1128.3 1667.9 L1132.3 1668.2 L1136.3 1668.5 L1140.3 1668.8 L1144.3 1669.2 L1148.3 1669.5 L1152.3 1669.8 L1156.3 1670.1 L1160.3 1670.4 L1164.3 1670.7 L1168.3 1671.0 L1172.3 1671.3 L1176.3 1671.6 L1180.3 1671.9 L1184.3 1672.2 L1188.3 1672.4 L1192.3 1672.7 L1196.3 1673.0 L1200.3 1673.3 L1204.3 1673.6 L1208.3 1673.8 L1212.3 1674.1 L1216.3 1674.4 L1220.3 1674.6 L1224.3 1674.9 L1228.3 1675.1 L1232.3 1675.4 L1236.3 1675.6 L1240.3 1675.9 L1244.3 1676.1 L1248.3 1676.4 L1252.3 1676.6 L1256.3 1676.9 L1260.3 1677.1 L1264.3 1677.3 L1268.3 1677.6 L1272.3 1677.8 L1276.3 1678.0 L1280.3 1678.2 L1284.3 1678.5 L1288.3 1678.7 L1292.3 1678.9 L1296.3 1679.1 L1300.3 1679.3 L1304.3 1679.5 L1308.3 1679.7 L1312.3 1680.0 L1316.3 1680.2 L1320.3 1680.4 L1324.3 1680.6 L1328.3 1680.8 L1332.3 1681.0 L1336.3 1681.2 L1340.3 1681.3 L1344.3 1681.5 L1348.3 1681.7 L1352.3 1681.9 L1356.3 1682.1 L1360.3 1682.3 L1364.3 1682.5 L1368.3 1682.7 L1372.3 1682.8 L1376.3 1683.0 L1380.3 1683.2 L1384.3 1683.4 L1388.3 1683.5 L1392.3 1683.7 L1396.3 1683.9 L1400.3 1684.0 L1404.3 1684.2 L1408.3 1684.4 L1412.3 1684.5 L1416.3 1684.7 L1420.3 1684.8 L1424.3 1685.0 L1428.3 1685.2 L1432.3 1685.3 L1436.3 1685.5 L1440.3 1685.6 L1444.3 1685.8 L1448.3 1685.9 L1452.3 1686.1 L1456.3 1686.2 L1460.3 1686.3 L1464.3 1686.5 L1468.3 1686.6 L1472.3 1686.8 L1476.3 1686.9 L1480.3 1687.0 L1484.3 1687.2 L1488.3 1687.3 L1492.3 1687.4 L1496.3 1687.6 L1500.3 1687.7 L1504.3 1687.8 L1508.3 1688.0 L1512.3 1688.1 L1516.3 1688.2 L1520.3 1688.3 L1524.3 1688.5 L1528.3 1688.6 L1532.3 1688.7 L1536.3 1688.8 L1540.3 1688.9 L1544.3 1689.1 L1548.3 1689.2 L1552.3 1689.3 L1556.3 1689.4 L1560.3 1689.5 L1564.3 1689.6 L1568.3 1689.7 L1572.3 1689.9 L1576.3 1690.0 L1580.3 1690.1 L1584.3 1690.2 L1588.3 1690.3 L1592.3 1690.4 L1596.3 1690.5 L1600.3 1690.6 L1604.3 1690.7 L1608.3 1690.8 L1612.3 1690.9 L1616.3 1691.0 L1620.3 1691.1 L1624.3 1691.2 L1628.3 1691.3 L1632.3 1691.4 L1636.3 1691.5 L1640.3 1691.6 L1644.3 1691.7 L1648.3 1691.8 L1652.3 1691.8 L1656.3 1691.9 L1660.3 1692.0 L1664.3 1692.1 L1668.3 1692.2 L1672.3 1692.3 L1676.3 1692.4 L1680.3 1692.5 L1684.3 1692.5 L1688.3 1692.6 L1692.3 1692.7 L1696.3 1692.8 L1700.3 1692.9 L1704.3 1692.9 L1708.3 1693.0 L1712.3 1693.1 L1716.3 1693.2 L1720.3 1693.3" fill="none" stroke="#ff3232" stroke-width="5.4" stroke-linecap="round"/>
</g>
<rect x="211.50" y="68.00" width="1513.30" height="4.00" fill="#6a6a6a"/>
<rect x="211.50" y="475.60" width="1513.30" height="3.40" fill="#959595"/>
<rect x="211.50" y="479.00" width="1513.30" height="3.90" fill="#585858"/>
<rect x="211.50" y="907.20" width="1513.30" height="3.80" fill="#c4c4c4"/>
<rect x="211.50" y="911.00" width="1513.30" height="3.40" fill="#333333"/>
<rect x="211.50" y="1338.00" width="1513.30" height="4.00" fill="#888888"/>
<rect x="211.50" y="1342.00" width="1513.30" height="4.00" fill="#a5a5a5"/>
<rect x="211.50" y="1761.00" width="1513.30" height="4.20" fill="#666666"/>
<rect x="211.50" y="68.00" width="3.70" height="1697.20" fill="#6a6a6a"/>
<rect x="1721.00" y="68.00" width="3.80" height="1697.20" fill="#6a6a6a"/>
<rect x="363.30" y="468.90" width="6.40" height="6.50" fill="#9a9a9a"/>
<rect x="364.70" y="471.50" width="3.60" height="3.90" fill="#7a7a7a"/>
<rect x="515.60" y="464.40" width="6.40" height="11.00" fill="#9a9a9a"/>
<rect x="517.00" y="468.80" width="3.60" height="6.60" fill="#7a7a7a"/>
<rect x="667.90" y="468.90" width="6.40" height="6.50" fill="#9a9a9a"/>
<rect x="669.30" y="471.50" width="3.60" height="3.90" fill="#7a7a7a"/>
<rect x="820.20" y="464.40" width="6.40" height="11.00" fill="#9a9a9a"/>
<rect x="821.60" y="468.80" width="3.60" height="6.60" fill="#7a7a7a"/>
<rect x="972.50" y="468.90" width="6.40" height="6.50" fill="#9a9a9a"/>
<rect x="973.90" y="471.50" width="3.60" height="3.90" fill="#7a7a7a"/>
<rect x="1124.80" y="464.40" width="6.40" height="11.00" fill="#9a9a9a"/>
<rect x="1126.20" y="468.80" width="3.60" height="6.60" fill="#7a7a7a"/>
<rect x="1277.10" y="468.90" width="6.40" height="6.50" fill="#9a9a9a"/>
<rect x="1278.50" y="471.50" width="3.60" height="3.90" fill="#7a7a7a"/>
<rect x="1429.40" y="464.40" width="6.40" height="11.00" fill="#9a9a9a"/>
<rect x="1430.80" y="468.80" width="3.60" height="6.60" fill="#7a7a7a"/>
<rect x="1581.70" y="468.90" width="6.40" height="6.50" fill="#9a9a9a"/>
<rect x="1583.10" y="471.50" width="3.60" height="3.90" fill="#7a7a7a"/>
<rect x="215.20" y="459.89" width="4.50" height="3.40" fill="#6e6e6e"/>
<rect x="215.20" y="428.90" width="4.50" height="3.40" fill="#6e6e6e"/>
<rect x="215.20" y="400.39" width="4.50" height="3.40" fill="#6e6e6e"/>
<rect x="215.20" y="374.00" width="4.50" height="3.40" fill="#6e6e6e"/>
<rect x="215.20" y="349.43" width="4.50" height="3.40" fill="#6e6e6e"/>
<rect x="215.20" y="326.45" width="4.50" height="3.40" fill="#6e6e6e"/>
<rect x="215.20" y="304.86" width="4.50" height="3.40" fill="#6e6e6e"/>
<rect x="215.20" y="284.50" width="4.50" height="3.40" fill="#6e6e6e"/>
<rect x="215.20" y="265.24" width="4.50" height="3.40" fill="#6e6e6e"/>
<rect x="215.20" y="246.98" width="4.50" height="3.40" fill="#6e6e6e"/>
<rect x="215.20" y="229.60" width="4.50" height="3.40" fill="#6e6e6e"/>
<rect x="215.20" y="213.03" width="4.50" height="3.40" fill="#6e6e6e"/>
<rect x="215.20" y="197.20" width="4.50" height="3.40" fill="#6e6e6e"/>
<rect x="215.20" y="182.05" width="4.50" height="3.40" fill="#6e6e6e"/>
<rect x="215.20" y="167.51" width="4.50" height="3.40" fill="#6e6e6e"/>
<rect x="215.20" y="153.54" width="4.50" height="3.40" fill="#6e6e6e"/>
<rect x="215.20" y="140.10" width="4.50" height="3.40" fill="#6e6e6e"/>
<rect x="215.20" y="127.15" width="4.50" height="3.40" fill="#6e6e6e"/>
<rect x="215.20" y="114.65" width="4.50" height="3.40" fill="#6e6e6e"/>
<rect x="215.20" y="102.58" width="4.50" height="3.40" fill="#6e6e6e"/>
<rect x="215.20" y="90.90" width="4.50" height="3.40" fill="#6e6e6e"/>
<rect x="215.20" y="79.59" width="4.50" height="3.40" fill="#6e6e6e"/>
<rect x="215.20" y="140.10" width="12.00" height="3.40" fill="#6e6e6e"/>
<rect x="215.20" y="284.50" width="12.00" height="3.40" fill="#6e6e6e"/>
<rect x="363.30" y="900.80" width="6.40" height="6.50" fill="#9a9a9a"/>
<rect x="364.70" y="903.40" width="3.60" height="3.90" fill="#7a7a7a"/>
<rect x="515.60" y="896.30" width="6.40" height="11.00" fill="#9a9a9a"/>
<rect x="517.00" y="900.70" width="3.60" height="6.60" fill="#7a7a7a"/>
<rect x="667.90" y="900.80" width="6.40" height="6.50" fill="#9a9a9a"/>
<rect x="669.30" y="903.40" width="3.60" height="3.90" fill="#7a7a7a"/>
<rect x="820.20" y="896.30" width="6.40" height="11.00" fill="#9a9a9a"/>
<rect x="821.60" y="900.70" width="3.60" height="6.60" fill="#7a7a7a"/>
<rect x="972.50" y="900.80" width="6.40" height="6.50" fill="#9a9a9a"/>
<rect x="973.90" y="903.40" width="3.60" height="3.90" fill="#7a7a7a"/>
<rect x="1124.80" y="896.30" width="6.40" height="11.00" fill="#9a9a9a"/>
<rect x="1126.20" y="900.70" width="3.60" height="6.60" fill="#7a7a7a"/>
<rect x="1277.10" y="900.80" width="6.40" height="6.50" fill="#9a9a9a"/>
<rect x="1278.50" y="903.40" width="3.60" height="3.90" fill="#7a7a7a"/>
<rect x="1429.40" y="896.30" width="6.40" height="11.00" fill="#9a9a9a"/>
<rect x="1430.80" y="900.70" width="3.60" height="6.60" fill="#7a7a7a"/>
<rect x="1581.70" y="900.80" width="6.40" height="6.50" fill="#9a9a9a"/>
<rect x="1583.10" y="903.40" width="3.60" height="3.90" fill="#7a7a7a"/>
<rect x="215.20" y="872.13" width="4.50" height="3.40" fill="#6e6e6e"/>
<rect x="215.20" y="839.19" width="4.50" height="3.40" fill="#6e6e6e"/>
<rect x="215.20" y="808.53" width="4.50" height="3.40" fill="#6e6e6e"/>
<rect x="215.20" y="779.85" width="4.50" height="3.40" fill="#6e6e6e"/>
<rect x="215.20" y="752.90" width="4.50" height="3.40" fill="#6e6e6e"/>
<rect x="215.20" y="727.50" width="4.50" height="3.40" fill="#6e6e6e"/>
<rect x="215.20" y="703.47" width="4.50" height="3.40" fill="#6e6e6e"/>
<rect x="215.20" y="680.67" width="4.50" height="3.40" fill="#6e6e6e"/>
<rect x="215.20" y="658.99" width="4.50" height="3.40" fill="#6e6e6e"/>
<rect x="215.20" y="638.32" width="4.50" height="3.40" fill="#6e6e6e"/>
<rect x="215.20" y="618.56" width="4.50" height="3.40" fill="#6e6e6e"/>
<rect x="215.20" y="599.65" width="4.50" height="3.40" fill="#6e6e6e"/>
<rect x="215.20" y="581.50" width="4.50" height="3.40" fill="#6e6e6e"/>
<rect x="215.20" y="564.07" width="4.50" height="3.40" fill="#6e6e6e"/>
<rect x="215.20" y="547.30" width="4.50" height="3.40" fill="#6e6e6e"/>
<rect x="215.20" y="531.14" width="4.50" height="3.40" fill="#6e6e6e"/>
<rect x="215.20" y="515.54" width="4.50" height="3.40" fill="#6e6e6e"/>
<rect x="215.20" y="500.47" width="4.50" height="3.40" fill="#6e6e6e"/>
<rect x="215.20" y="485.90" width="4.50" height="3.40" fill="#6e6e6e"/>
<rect x="215.20" y="547.30" width="12.00" height="3.40" fill="#6e6e6e"/>
<rect x="215.20" y="727.50" width="12.00" height="3.40" fill="#6e6e6e"/>
<rect x="363.30" y="1331.70" width="6.40" height="6.50" fill="#9a9a9a"/>
<rect x="364.70" y="1334.30" width="3.60" height="3.90" fill="#7a7a7a"/>
<rect x="515.60" y="1327.20" width="6.40" height="11.00" fill="#9a9a9a"/>
<rect x="517.00" y="1331.60" width="3.60" height="6.60" fill="#7a7a7a"/>
<rect x="667.90" y="1331.70" width="6.40" height="6.50" fill="#9a9a9a"/>
<rect x="669.30" y="1334.30" width="3.60" height="3.90" fill="#7a7a7a"/>
<rect x="820.20" y="1327.20" width="6.40" height="11.00" fill="#9a9a9a"/>
<rect x="821.60" y="1331.60" width="3.60" height="6.60" fill="#7a7a7a"/>
<rect x="972.50" y="1331.70" width="6.40" height="6.50" fill="#9a9a9a"/>
<rect x="973.90" y="1334.30" width="3.60" height="3.90" fill="#7a7a7a"/>
<rect x="1124.80" y="1327.20" width="6.40" height="11.00" fill="#9a9a9a"/>
<rect x="1126.20" y="1331.60" width="3.60" height="6.60" fill="#7a7a7a"/>
<rect x="1277.10" y="1331.70" width="6.40" height="6.50" fill="#9a9a9a"/>
<rect x="1278.50" y="1334.30" width="3.60" height="3.90" fill="#7a7a7a"/>
<rect x="1429.40" y="1327.20" width="6.40" height="11.00" fill="#9a9a9a"/>
<rect x="1430.80" y="1331.60" width="3.60" height="6.60" fill="#7a7a7a"/>
<rect x="1581.70" y="1331.70" width="6.40" height="6.50" fill="#9a9a9a"/>
<rect x="1583.10" y="1334.30" width="3.60" height="3.90" fill="#7a7a7a"/>
<rect x="215.20" y="1301.68" width="4.50" height="3.40" fill="#6e6e6e"/>
<rect x="215.20" y="1268.99" width="4.50" height="3.40" fill="#6e6e6e"/>
<rect x="215.20" y="1238.54" width="4.50" height="3.40" fill="#6e6e6e"/>
<rect x="215.20" y="1210.07" width="4.50" height="3.40" fill="#6e6e6e"/>
<rect x="215.20" y="1183.32" width="4.50" height="3.40" fill="#6e6e6e"/>
<rect x="215.20" y="1158.10" width="4.50" height="3.40" fill="#6e6e6e"/>
<rect x="215.20" y="1134.24" width="4.50" height="3.40" fill="#6e6e6e"/>
<rect x="215.20" y="1111.61" width="4.50" height="3.40" fill="#6e6e6e"/>
<rect x="215.20" y="1090.09" width="4.50" height="3.40" fill="#6e6e6e"/>
<rect x="215.20" y="1069.56" width="4.50" height="3.40" fill="#6e6e6e"/>
<rect x="215.20" y="1049.95" width="4.50" height="3.40" fill="#6e6e6e"/>
<rect x="215.20" y="1031.17" width="4.50" height="3.40" fill="#6e6e6e"/>
<rect x="215.20" y="1013.16" width="4.50" height="3.40" fill="#6e6e6e"/>
<rect x="215.20" y="995.85" width="4.50" height="3.40" fill="#6e6e6e"/>
<rect x="215.20" y="979.20" width="4.50" height="3.40" fill="#6e6e6e"/>
<rect x="215.20" y="963.15" width="4.50" height="3.40" fill="#6e6e6e"/>
<rect x="215.20" y="947.67" width="4.50" height="3.40" fill="#6e6e6e"/>
<rect x="215.20" y="932.71" width="4.50" height="3.40" fill="#6e6e6e"/>
<rect x="215.20" y="918.25" width="4.50" height="3.40" fill="#6e6e6e"/>
<rect x="215.20" y="979.20" width="12.00" height="3.40" fill="#6e6e6e"/>
<rect x="215.20" y="1158.10" width="12.00" height="3.40" fill="#6e6e6e"/>
<rect x="363.30" y="1754.70" width="6.40" height="6.50" fill="#9a9a9a"/>
<rect x="364.70" y="1757.30" width="3.60" height="3.90" fill="#7a7a7a"/>
<rect x="515.60" y="1750.20" width="6.40" height="11.00" fill="#9a9a9a"/>
<rect x="517.00" y="1754.60" width="3.60" height="6.60" fill="#7a7a7a"/>
<rect x="667.90" y="1754.70" width="6.40" height="6.50" fill="#9a9a9a"/>
<rect x="669.30" y="1757.30" width="3.60" height="3.90" fill="#7a7a7a"/>
<rect x="820.20" y="1750.20" width="6.40" height="11.00" fill="#9a9a9a"/>
<rect x="821.60" y="1754.60" width="3.60" height="6.60" fill="#7a7a7a"/>
<rect x="972.50" y="1754.70" width="6.40" height="6.50" fill="#9a9a9a"/>
<rect x="973.90" y="1757.30" width="3.60" height="3.90" fill="#7a7a7a"/>
<rect x="1124.80" y="1750.20" width="6.40" height="11.00" fill="#9a9a9a"/>
<rect x="1126.20" y="1754.60" width="3.60" height="6.60" fill="#7a7a7a"/>
<rect x="1277.10" y="1754.70" width="6.40" height="6.50" fill="#9a9a9a"/>
<rect x="1278.50" y="1757.30" width="3.60" height="3.90" fill="#7a7a7a"/>
<rect x="1429.40" y="1750.20" width="6.40" height="11.00" fill="#9a9a9a"/>
<rect x="1430.80" y="1754.60" width="3.60" height="6.60" fill="#7a7a7a"/>
<rect x="1581.70" y="1754.70" width="6.40" height="6.50" fill="#9a9a9a"/>
<rect x="1583.10" y="1757.30" width="3.60" height="3.90" fill="#7a7a7a"/>
<rect x="215.20" y="1726.92" width="4.50" height="3.40" fill="#6e6e6e"/>
<rect x="215.20" y="1694.44" width="4.50" height="3.40" fill="#6e6e6e"/>
<rect x="215.20" y="1664.20" width="4.50" height="3.40" fill="#6e6e6e"/>
<rect x="215.20" y="1635.92" width="4.50" height="3.40" fill="#6e6e6e"/>
<rect x="215.20" y="1609.35" width="4.50" height="3.40" fill="#6e6e6e"/>
<rect x="215.20" y="1584.30" width="4.50" height="3.40" fill="#6e6e6e"/>
<rect x="215.20" y="1560.60" width="4.50" height="3.40" fill="#6e6e6e"/>
<rect x="215.20" y="1538.12" width="4.50" height="3.40" fill="#6e6e6e"/>
<rect x="215.20" y="1516.74" width="4.50" height="3.40" fill="#6e6e6e"/>
<rect x="215.20" y="1496.35" width="4.50" height="3.40" fill="#6e6e6e"/>
<rect x="215.20" y="1476.87" width="4.50" height="3.40" fill="#6e6e6e"/>
<rect x="215.20" y="1458.22" width="4.50" height="3.40" fill="#6e6e6e"/>
<rect x="215.20" y="1440.33" width="4.50" height="3.40" fill="#6e6e6e"/>
<rect x="215.20" y="1423.14" width="4.50" height="3.40" fill="#6e6e6e"/>
<rect x="215.20" y="1406.60" width="4.50" height="3.40" fill="#6e6e6e"/>
<rect x="215.20" y="1390.66" width="4.50" height="3.40" fill="#6e6e6e"/>
<rect x="215.20" y="1375.28" width="4.50" height="3.40" fill="#6e6e6e"/>
<rect x="215.20" y="1360.42" width="4.50" height="3.40" fill="#6e6e6e"/>
<rect x="215.20" y="1406.60" width="12.00" height="3.40" fill="#6e6e6e"/>
<rect x="215.20" y="1584.30" width="12.00" height="3.40" fill="#6e6e6e"/>
<text transform="translate(127.89 158.30) scale(0.9464 1)" style="font-family:'Liberation Serif',serif;font-weight:normal;font-size:60.00px" fill="#111">1.8</text>
<text transform="translate(127.82 302.69) scale(0.9522 1)" style="font-family:'Liberation Serif',serif;font-weight:normal;font-size:60.44px" fill="#111">1.2</text>
<text transform="translate(127.89 565.50) scale(0.9464 1)" style="font-family:'Liberation Serif',serif;font-weight:normal;font-size:60.00px" fill="#111">1.8</text>
<text transform="translate(127.82 745.69) scale(0.9522 1)" style="font-family:'Liberation Serif',serif;font-weight:normal;font-size:60.44px" fill="#111">1.2</text>
<text transform="translate(127.89 997.40) scale(0.9464 1)" style="font-family:'Liberation Serif',serif;font-weight:normal;font-size:60.00px" fill="#111">1.8</text>
<text transform="translate(127.82 1176.29) scale(0.9522 1)" style="font-family:'Liberation Serif',serif;font-weight:normal;font-size:60.44px" fill="#111">1.2</text>
<text transform="translate(127.89 1424.80) scale(0.9464 1)" style="font-family:'Liberation Serif',serif;font-weight:normal;font-size:60.00px" fill="#111">1.8</text>
<text transform="translate(127.82 1602.49) scale(0.9522 1)" style="font-family:'Liberation Serif',serif;font-weight:normal;font-size:60.44px" fill="#111">1.2</text>
<text x="213.70" y="1823.50" style="font-family:'Liberation Serif',serif;font-weight:normal;font-size:62.50px" fill="#111" text-anchor="middle">0</text>
<text x="518.30" y="1823.50" style="font-family:'Liberation Serif',serif;font-weight:normal;font-size:62.50px" fill="#111" text-anchor="middle">1</text>
<text x="822.90" y="1823.50" style="font-family:'Liberation Serif',serif;font-weight:normal;font-size:62.50px" fill="#111" text-anchor="middle">2</text>
<text x="1127.50" y="1823.50" style="font-family:'Liberation Serif',serif;font-weight:normal;font-size:62.50px" fill="#111" text-anchor="middle">3</text>
<text x="1432.10" y="1823.50" style="font-family:'Liberation Serif',serif;font-weight:normal;font-size:62.50px" fill="#111" text-anchor="middle">4</text>
<text transform="translate(120.00 74.46)" style="font-family:'Liberation Serif',serif;font-weight:normal;font-size:61.23px" fill="#222">×</text>
<text transform="translate(156.64 69.01) scale(0.9185 1)" style="font-family:'Liberation Serif',serif;font-weight:normal;font-size:58.81px" fill="#222">10</text>
<text transform="translate(215.25 58.71) scale(1.1515 1)" style="font-family:'Liberation Serif',serif;font-weight:normal;font-size:43.23px" fill="#222">^</text>
<text transform="translate(237.81 54.08) scale(0.8388 1)" style="font-family:'Liberation Serif',serif;font-weight:normal;font-size:61.64px" fill="#222">3</text>
<text transform="translate(798.56 1916.80) scale(1.0209 1)" style="font-family:'Liberation Serif',serif;font-weight:normal;font-size:80.45px" fill="#111">Time</text>
<text transform="translate(987.98 1917.30) scale(1.0547 1)" style="font-family:'Liberation Serif',serif;font-weight:normal;font-size:103.74px" fill="#3a3a3a">(</text>
<text transform="translate(1020.99 1917.72) scale(1.0873 1)" style="font-family:'Liberation Serif',serif;font-weight:normal;font-size:81.75px" fill="#111">μs</text>
<text transform="translate(1100.78 1917.06)" style="font-family:'Liberation Serif',serif;font-weight:normal;font-size:107.33px" fill="#3a3a3a">)</text>
<text transform="translate(70.30 896.50) rotate(-90) scale(1.0150 1)" style="font-family:'Liberation Serif',serif;font-weight:normal;font-size:81.60px" fill="#111" text-anchor="middle">PL intensity (a.u)</text>
<text transform="translate(407.31 198.05) scale(0.8787 1)" style="font-family:'Noto Serif CJK SC',serif;font-weight:bold;font-size:143.06px" fill="#000">τ</text>
<text transform="translate(477.31 231.58) scale(0.9887 1)" style="font-family:'Liberation Serif',serif;font-weight:normal;font-size:71.88px" fill="#000">ave</text>
<text transform="translate(594.27 192.21) scale(1.4845 1)" style="font-family:'Liberation Serif',serif;font-weight:bold;font-size:71.85px" fill="#555">=</text>
<text transform="translate(672.94 195.67) scale(1.0270 1)" style="font-family:'Liberation Serif',serif;font-weight:bold;font-size:88.38px" fill="#000">1.03</text>
<text transform="translate(854.36 197.06) scale(1.2124 1)" style="font-family:'Liberation Serif',serif;font-weight:normal;font-size:89.04px" fill="#000">μ</text>
<text transform="translate(911.95 200.57) scale(0.8818 1)" style="font-family:'Liberation Serif',serif;font-weight:bold;font-size:94.61px" fill="#000">s</text>
<text transform="translate(410.84 606.22) scale(0.8994 1)" style="font-family:'Noto Serif CJK SC',serif;font-weight:bold;font-size:145.23px" fill="#000">τ</text>
<text transform="translate(481.62 640.98) scale(1.0256 1)" style="font-family:'Liberation Serif',serif;font-weight:normal;font-size:71.87px" fill="#000">ave</text>
<text transform="translate(603.05 602.38) scale(1.2909 1)" style="font-family:'Liberation Serif',serif;font-weight:bold;font-size:82.96px" fill="#555">=</text>
<text transform="translate(684.89 605.39) scale(0.9829 1)" style="font-family:'Liberation Serif',serif;font-weight:bold;font-size:94.26px" fill="#000">0.98</text>
<text transform="translate(869.32 604.07) scale(1.1927 1)" style="font-family:'Liberation Serif',serif;font-weight:normal;font-size:89.93px" fill="#000">μ</text>
<text transform="translate(926.55 607.62) scale(0.8672 1)" style="font-family:'Liberation Serif',serif;font-weight:bold;font-size:95.57px" fill="#000">s</text>
<text transform="translate(415.84 1024.66) scale(0.9176 1)" style="font-family:'Noto Serif CJK SC',serif;font-weight:bold;font-size:142.34px" fill="#000">τ</text>
<text transform="translate(486.57 1059.32) scale(1.0976 1)" style="font-family:'Liberation Serif',serif;font-weight:normal;font-size:68.33px" fill="#000">ave</text>
<text transform="translate(609.73 1021.34) scale(1.3291 1)" style="font-family:'Liberation Serif',serif;font-weight:bold;font-size:80.74px" fill="#555">=</text>
<text transform="translate(689.40 1023.69) scale(0.9973 1)" style="font-family:'Liberation Serif',serif;font-weight:bold;font-size:93.97px" fill="#000">1.06</text>
<text transform="translate(874.12 1023.52) scale(1.1873 1)" style="font-family:'Liberation Serif',serif;font-weight:normal;font-size:92.44px" fill="#000">μ</text>
<text transform="translate(932.62 1027.19) scale(0.8636 1)" style="font-family:'Liberation Serif',serif;font-weight:bold;font-size:98.27px" fill="#000">s</text>
<text transform="translate(439.29 1476.36) scale(0.8932 1)" style="font-family:'Noto Serif CJK SC',serif;font-weight:bold;font-size:142.34px" fill="#000">τ</text>
<text transform="translate(508.37 1510.99) scale(1.0165 1)" style="font-family:'Liberation Serif',serif;font-weight:normal;font-size:71.25px" fill="#000">ave</text>
<text transform="translate(626.43 1472.80) scale(1.3414 1)" style="font-family:'Liberation Serif',serif;font-weight:bold;font-size:80.00px" fill="#555">=</text>
<text transform="translate(704.52 1475.42) scale(1.0055 1)" style="font-family:'Liberation Serif',serif;font-weight:bold;font-size:91.76px" fill="#000">1.10</text>
<text transform="translate(887.79 1475.77) scale(1.1695 1)" style="font-family:'Liberation Serif',serif;font-weight:normal;font-size:89.93px" fill="#000">μ</text>
<text transform="translate(943.96 1479.32) scale(0.8498 1)" style="font-family:'Liberation Serif',serif;font-weight:bold;font-size:95.57px" fill="#000">s</text>
<rect x="961.60" y="100.20" width="136.60" height="7.60" fill="#6c6c6c"/>
<rect x="961.60" y="184.10" width="136.60" height="11.00" fill="#fcd0d0"/>
<rect x="961.60" y="186.00" width="136.60" height="7.20" fill="#fb8d8d"/>
<rect x="961.60" y="187.40" width="136.60" height="4.40" fill="#f73232"/>
<text transform="translate(1108.57 123.44) scale(1.0428 1)" style="font-family:'Liberation Serif',serif;font-weight:bold;font-size:56.30px" fill="#111">S-120s</text>
<text transform="translate(1289.10 122.76) scale(0.8847 1)" style="font-family:'Liberation Serif',serif;font-weight:normal;font-size:52.75px" fill="#111">(</text>
<text transform="translate(1306.89 122.60) scale(1.1443 1)" style="font-family:'Liberation Serif',serif;font-weight:normal;font-size:52.62px" fill="#111">λ</text>
<text transform="translate(1338.32 138.25) scale(1.1031 1)" style="font-family:'Liberation Serif',serif;font-weight:bold;font-size:35.46px" fill="#111">monitor</text>
<text transform="translate(1483.84 126.03) scale(1.1129 1)" style="font-family:'Liberation Serif',serif;font-weight:bold;font-size:62.22px" fill="#222" stroke="#222" stroke-width="1.6">=</text>
<text transform="translate(1535.71 122.73) scale(1.0040 1)" style="font-family:'Liberation Serif',serif;font-weight:bold;font-size:57.01px" fill="#111">525nm</text>
<text transform="translate(1705.07 122.42) scale(0.9036 1)" style="font-family:'Liberation Serif',serif;font-weight:normal;font-size:52.78px" fill="#111">)</text>
<text transform="translate(1110.92 209.45) scale(1.0182 1)" style="font-family:'Liberation Serif',serif;font-weight:bold;font-size:57.49px" fill="#111">Fitting</text>
<rect x="970.00" y="510.20" width="143.00" height="7.60" fill="#6c6c6c"/>
<rect x="970.00" y="595.70" width="143.00" height="11.00" fill="#fcd0d0"/>
<rect x="970.00" y="597.60" width="143.00" height="7.20" fill="#fb8d8d"/>
<rect x="970.00" y="599.00" width="143.00" height="4.40" fill="#f73232"/>
<text transform="translate(1124.09 535.85) scale(0.9331 1)" style="font-family:'Liberation Serif',serif;font-weight:bold;font-size:64.59px" fill="#111">S-90s</text>
<text transform="translate(1277.35 533.42) scale(1.0924 1)" style="font-family:'Liberation Serif',serif;font-weight:normal;font-size:53.85px" fill="#111">(</text>
<text transform="translate(1296.54 534.50) scale(0.9931 1)" style="font-family:'Liberation Serif',serif;font-weight:normal;font-size:58.87px" fill="#111">λ</text>
<text transform="translate(1326.59 548.85) scale(1.1556 1)" style="font-family:'Liberation Serif',serif;font-weight:bold;font-size:34.89px" fill="#111">monitor</text>
<text transform="translate(1476.27 530.94) scale(1.4471 1)" style="font-family:'Liberation Serif',serif;font-weight:bold;font-size:47.41px" fill="#222" stroke="#222" stroke-width="1.6">=</text>
<text transform="translate(1528.84 533.60) scale(0.9847 1)" style="font-family:'Liberation Serif',serif;font-weight:bold;font-size:60.00px" fill="#111">525nm</text>
<text transform="translate(1701.62 532.89) scale(0.8537 1)" style="font-family:'Liberation Serif',serif;font-weight:normal;font-size:57.67px" fill="#111">)</text>
<text transform="translate(1126.62 621.87) scale(0.9952 1)" style="font-family:'Liberation Serif',serif;font-weight:bold;font-size:59.23px" fill="#111">Fitting</text>
<rect x="970.00" y="941.60" width="143.00" height="7.60" fill="#6c6c6c"/>
<rect x="970.00" y="1027.90" width="143.00" height="11.00" fill="#fcd0d0"/>
<rect x="970.00" y="1029.80" width="143.00" height="7.20" fill="#fb8d8d"/>
<rect x="970.00" y="1031.20" width="143.00" height="4.40" fill="#f73232"/>
<text transform="translate(1124.09 967.35) scale(0.9331 1)" style="font-family:'Liberation Serif',serif;font-weight:bold;font-size:64.59px" fill="#111">S-30s</text>
<text transform="translate(1277.35 964.92) scale(1.0924 1)" style="font-family:'Liberation Serif',serif;font-weight:normal;font-size:53.85px" fill="#111">(</text>
<text transform="translate(1296.54 966.00) scale(0.9931 1)" style="font-family:'Liberation Serif',serif;font-weight:normal;font-size:58.87px" fill="#111">λ</text>
<text transform="translate(1326.59 980.35) scale(1.1556 1)" style="font-family:'Liberation Serif',serif;font-weight:bold;font-size:34.89px" fill="#111">monitor</text>
<text transform="translate(1476.27 962.44) scale(1.4471 1)" style="font-family:'Liberation Serif',serif;font-weight:bold;font-size:47.41px" fill="#222" stroke="#222" stroke-width="1.6">=</text>
<text transform="translate(1528.84 965.10) scale(0.9847 1)" style="font-family:'Liberation Serif',serif;font-weight:bold;font-size:60.00px" fill="#111">525nm</text>
<text transform="translate(1701.62 964.39) scale(0.8537 1)" style="font-family:'Liberation Serif',serif;font-weight:normal;font-size:57.67px" fill="#111">)</text>
<text transform="translate(1126.62 1053.37) scale(0.9952 1)" style="font-family:'Liberation Serif',serif;font-weight:bold;font-size:59.23px" fill="#111">Fitting</text>
<rect x="1016.00" y="1373.40" width="138.60" height="7.60" fill="#6c6c6c"/>
<rect x="1016.00" y="1457.90" width="138.60" height="11.00" fill="#fcd0d0"/>
<rect x="1016.00" y="1459.80" width="138.60" height="7.20" fill="#fb8d8d"/>
<rect x="1016.00" y="1461.20" width="138.60" height="4.40" fill="#f73232"/>
<text transform="translate(1165.26 1398.66) scale(0.9170 1)" style="font-family:'Liberation Serif',serif;font-weight:bold;font-size:64.15px" fill="#111">S-0s</text>
<text transform="translate(1285.85 1396.44) scale(1.1129 1)" style="font-family:'Liberation Serif',serif;font-weight:normal;font-size:52.86px" fill="#111">(</text>
<text transform="translate(1305.05 1397.50) scale(0.9939 1)" style="font-family:'Liberation Serif',serif;font-weight:normal;font-size:58.16px" fill="#111">λ</text>
<text transform="translate(1334.83 1412.15) scale(1.1242 1)" style="font-family:'Liberation Serif',serif;font-weight:bold;font-size:34.61px" fill="#111">monitor</text>
<text transform="translate(1483.05 1393.44) scale(1.3700 1)" style="font-family:'Liberation Serif',serif;font-weight:bold;font-size:47.41px" fill="#222" stroke="#222" stroke-width="1.6">=</text>
<text transform="translate(1532.15 1398.50) scale(0.9824 1)" style="font-family:'Liberation Serif',serif;font-weight:bold;font-size:59.85px" fill="#111">525nm</text>
<text transform="translate(1702.62 1396.18) scale(0.7922 1)" style="font-family:'Liberation Serif',serif;font-weight:normal;font-size:53.89px" fill="#111">)</text>
<text transform="translate(1166.62 1483.33) scale(1.0159 1)" style="font-family:'Liberation Serif',serif;font-weight:bold;font-size:58.03px" fill="#111">Fitting</text></svg>
</body></html>
